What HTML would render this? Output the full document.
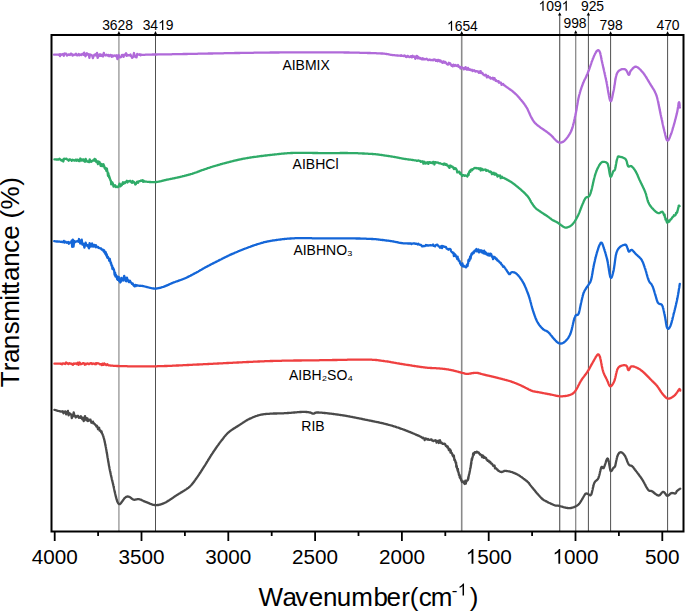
<!DOCTYPE html>
<html><head><meta charset="utf-8"><style>
html,body{margin:0;padding:0;background:#fff;}
body{width:685px;height:612px;overflow:hidden;}
svg{display:block;}
text{font-family:"Liberation Sans",sans-serif;fill:#000;}
.pk{font-size:13.7px;}
.tk{font-size:20.7px;}
.cl{font-size:14px;}
</style></head><body>
<svg width="685" height="612" viewBox="0 0 685 612">
<rect x="0" y="0" width="685" height="612" fill="#fff"/>
<line x1="118.9" y1="33.1" x2="118.9" y2="531" stroke="#a8a8a8" stroke-width="1.6"/>
<path d="M118.9 31.1 L117.2 34.4 L120.6 34.4 Z" fill="#000"/>
<text x="102.14" y="29.90" style="font-size:13.9px">3628</text>
<line x1="155.5" y1="33.1" x2="155.5" y2="531" stroke="#505050" stroke-width="1.0"/>
<path d="M155.5 31.1 L153.8 34.4 L157.2 34.4 Z" fill="#000"/>
<text x="142.64" y="29.90" style="font-size:13.9px">34</text><path d="M583,0 L763,0 L763,1466 L646,1466 C602,1377 520,1285 400,1200 C340,1158 280,1125 223,1102 L223,929 C290,954 376,995 450,1040 C510,1077 555,1113 583,1145 Z" transform="translate(158.10,29.90) scale(0.00679,-0.00679)" fill="#000"/><text x="165.83" y="29.90" style="font-size:13.9px">9</text>
<line x1="461.7" y1="33.1" x2="461.7" y2="531" stroke="#8a8a8a" stroke-width="1.6"/>
<path d="M461.7 31.1 L460.0 34.4 L463.4 34.4 Z" fill="#000"/>
<path d="M583,0 L763,0 L763,1466 L646,1466 C602,1377 520,1285 400,1200 C340,1158 280,1125 223,1102 L223,929 C290,954 376,995 450,1040 C510,1077 555,1113 583,1145 Z" transform="translate(446.94,30.70) scale(0.00679,-0.00679)" fill="#000"/><text x="454.67" y="30.70" style="font-size:13.9px">654</text>
<line x1="559.7" y1="14.2" x2="559.7" y2="531" stroke="#606060" stroke-width="1.2"/>
<path d="M559.7 12.2 L558.0 15.5 L561.4 15.5 Z" fill="#000"/>
<path d="M583,0 L763,0 L763,1466 L646,1466 C602,1377 520,1285 400,1200 C340,1158 280,1125 223,1102 L223,929 C290,954 376,995 450,1040 C510,1077 555,1113 583,1145 Z" transform="translate(538.44,10.80) scale(0.00679,-0.00679)" fill="#000"/><text x="546.17" y="10.80" style="font-size:13.9px">09</text><path d="M583,0 L763,0 L763,1466 L646,1466 C602,1377 520,1285 400,1200 C340,1158 280,1125 223,1102 L223,929 C290,954 376,995 450,1040 C510,1077 555,1113 583,1145 Z" transform="translate(561.63,10.80) scale(0.00679,-0.00679)" fill="#000"/>
<line x1="575.7" y1="32.2" x2="575.7" y2="531" stroke="#8a8a8a" stroke-width="1.3"/>
<path d="M575.7 30.2 L574.0 33.5 L577.4 33.5 Z" fill="#000"/>
<text x="563.41" y="27.80" style="font-size:13.9px">998</text>
<line x1="588.4" y1="14.2" x2="588.4" y2="531" stroke="#505050" stroke-width="1.0"/>
<path d="M588.4 12.2 L586.7 15.5 L590.1 15.5 Z" fill="#000"/>
<text x="580.91" y="10.60" style="font-size:13.9px">925</text>
<line x1="610.6" y1="33.3" x2="610.6" y2="531" stroke="#505050" stroke-width="1.0"/>
<path d="M610.6 31.3 L608.9 34.6 L612.3 34.6 Z" fill="#000"/>
<text x="599.61" y="30.00" style="font-size:13.9px">798</text>
<line x1="667.6" y1="33.3" x2="667.6" y2="531" stroke="#505050" stroke-width="1.0"/>
<path d="M667.6 31.3 L665.9 34.6 L669.3 34.6 Z" fill="#000"/>
<text x="656.41" y="30.00" style="font-size:13.9px">470</text>
<path d="M54.0 54.7 L54.4 54.7 L54.8 54.7 L55.2 54.7 L55.7 54.7 L56.2 54.7 L56.8 54.7 L57.4 54.7 L58.0 54.7 L58.7 54.8 L59.3 54.3 L60.0 56.1 L60.8 54.2 L61.5 54.8 L62.2 54.5 L63.0 54.0 L63.8 55.8 L64.6 53.5 L65.3 53.9 L66.1 53.6 L66.9 55.6 L67.7 55.0 L68.5 54.5 L69.2 54.6 L70.0 55.0 L70.6 53.9 L71.2 53.6 L71.9 54.2 L72.5 55.6 L73.2 54.6 L73.8 55.1 L74.5 54.6 L75.2 54.5 L75.9 53.7 L76.6 55.2 L77.3 55.4 L78.0 55.0 L78.7 53.9 L79.4 55.3 L80.1 54.4 L80.8 54.9 L81.5 55.0 L82.2 53.9 L82.9 53.8 L83.6 54.8 L84.2 52.6 L84.9 55.3 L85.6 56.2 L86.3 54.4 L86.9 53.3 L87.6 53.9 L88.2 54.9 L88.8 54.3 L89.4 57.9 L90.0 54.3 L90.8 54.9 L91.5 54.9 L92.2 55.7 L92.9 58.1 L93.6 55.9 L94.3 54.8 L95.0 55.4 L95.7 54.1 L96.3 55.6 L97.0 52.9 L97.6 57.9 L98.3 56.5 L98.9 54.8 L99.5 55.7 L100.1 54.2 L100.7 55.8 L101.4 55.7 L102.0 54.7 L102.6 56.4 L103.2 56.3 L103.8 52.9 L104.4 54.9 L105.0 54.9 L105.7 55.5 L106.4 54.6 L107.1 55.3 L107.7 55.6 L108.4 54.9 L109.1 56.2 L109.7 55.7 L110.4 54.9 L111.0 55.1 L111.7 56.9 L112.3 55.4 L113.0 56.4 L113.6 55.7 L114.2 55.6 L114.9 55.5 L115.5 56.0 L116.1 55.9 L116.7 55.3 L117.4 59.0 L118.0 57.5 L118.7 55.0 L119.3 56.8 L120.0 57.4 L120.6 57.1 L121.2 57.0 L121.8 55.0 L122.4 54.8 L123.0 56.0 L123.6 56.9 L124.2 54.7 L124.8 54.8 L125.4 55.0 L126.1 53.3 L126.8 55.9 L127.5 54.9 L128.3 55.4 L129.1 55.1 L130.0 55.5 L130.5 54.5 L131.1 56.4 L131.7 56.2 L132.2 57.8 L132.8 57.4 L133.4 55.3 L134.0 53.0 L134.6 55.9 L135.3 57.0 L135.9 56.0 L136.5 57.4 L137.2 53.9 L137.8 54.7 L138.5 54.5 L139.2 54.8 L139.9 54.3 L140.6 55.2 L141.3 54.7 L142.0 54.9 L142.7 54.8 L143.4 54.8 L144.1 54.8 L144.8 54.8 L145.6 54.7 L146.3 54.7 L147.0 54.7 L147.8 54.7 L148.5 54.6 L149.3 54.6 L150.0 54.6 L150.6 54.6 L151.2 54.6 L151.8 54.6 L152.4 54.5 L153.0 54.5 L153.7 54.5 L154.3 54.5 L154.9 54.5 L155.6 54.5 L156.2 54.5 L156.9 54.5 L157.5 54.4 L158.2 54.4 L158.8 54.4 L159.5 54.4 L160.2 54.4 L160.8 54.4 L161.5 54.4 L162.2 54.4 L162.9 54.4 L163.5 54.4 L164.2 54.4 L164.9 54.3 L165.6 54.3 L166.3 54.3 L166.9 54.3 L167.6 54.3 L168.3 54.3 L169.0 54.3 L169.6 54.3 L170.3 54.3 L171.0 54.3 L171.7 54.3 L172.3 54.2 L173.0 54.2 L173.7 54.2 L174.3 54.2 L175.0 54.2 L175.6 54.2 L176.3 54.2 L176.9 54.2 L177.5 54.2 L178.1 54.1 L178.7 54.1 L179.3 54.1 L179.8 54.1 L180.4 54.1 L180.9 54.1 L181.5 54.1 L182.0 54.1 L182.6 54.1 L183.1 54.0 L183.7 54.0 L184.2 54.0 L184.8 54.0 L185.4 54.0 L185.9 54.0 L186.5 54.0 L187.1 54.0 L187.7 53.9 L188.3 53.9 L189.0 53.9 L189.6 53.9 L190.3 53.9 L190.9 53.9 L191.6 53.9 L192.4 53.8 L193.1 53.8 L193.9 53.8 L194.7 53.8 L195.5 53.8 L196.3 53.8 L197.2 53.8 L198.1 53.7 L199.0 53.7 L200.0 53.7 L200.5 53.7 L201.0 53.7 L201.5 53.7 L202.0 53.7 L202.6 53.7 L203.1 53.6 L203.7 53.6 L204.2 53.6 L204.8 53.6 L205.3 53.6 L205.9 53.6 L206.5 53.6 L207.1 53.6 L207.7 53.6 L208.3 53.5 L208.9 53.5 L209.5 53.5 L210.1 53.5 L210.7 53.5 L211.4 53.5 L212.0 53.5 L212.6 53.5 L213.3 53.4 L213.9 53.4 L214.6 53.4 L215.3 53.4 L215.9 53.4 L216.6 53.4 L217.3 53.4 L217.9 53.4 L218.6 53.3 L219.3 53.3 L220.0 53.3 L220.7 53.3 L221.4 53.3 L222.0 53.3 L222.7 53.3 L223.4 53.3 L224.1 53.2 L224.8 53.2 L225.5 53.2 L226.2 53.2 L227.0 53.2 L227.7 53.2 L228.4 53.2 L229.1 53.1 L229.8 53.1 L230.5 53.1 L231.2 53.1 L231.9 53.1 L232.6 53.1 L233.4 53.1 L234.1 53.1 L234.8 53.0 L235.5 53.0 L236.2 53.0 L236.9 53.0 L237.6 53.0 L238.3 53.0 L239.0 53.0 L239.7 53.0 L240.4 52.9 L241.1 52.9 L241.8 52.9 L242.5 52.9 L243.2 52.9 L243.9 52.9 L244.6 52.9 L245.3 52.9 L246.0 52.9 L246.7 52.8 L247.3 52.8 L248.0 52.8 L248.7 52.8 L249.3 52.8 L250.0 52.8 L250.7 52.8 L251.3 52.8 L252.0 52.8 L252.6 52.8 L253.3 52.8 L254.0 52.7 L254.6 52.7 L255.3 52.7 L256.0 52.7 L256.7 52.7 L257.3 52.7 L258.0 52.7 L258.7 52.7 L259.3 52.7 L260.0 52.7 L260.7 52.7 L261.4 52.6 L262.1 52.6 L262.7 52.6 L263.4 52.6 L264.1 52.6 L264.8 52.6 L265.5 52.6 L266.1 52.6 L266.8 52.6 L267.5 52.6 L268.2 52.6 L268.8 52.6 L269.5 52.6 L270.2 52.5 L270.9 52.5 L271.6 52.5 L272.2 52.5 L272.9 52.5 L273.6 52.5 L274.3 52.5 L275.0 52.5 L275.6 52.5 L276.3 52.5 L277.0 52.5 L277.6 52.5 L278.3 52.5 L279.0 52.5 L279.7 52.4 L280.3 52.4 L281.0 52.4 L281.7 52.4 L282.3 52.4 L283.0 52.4 L283.6 52.4 L284.3 52.4 L284.9 52.4 L285.6 52.4 L286.3 52.4 L286.9 52.4 L287.6 52.4 L288.2 52.4 L288.8 52.4 L289.5 52.4 L290.1 52.4 L290.8 52.4 L291.4 52.3 L292.0 52.3 L292.7 52.3 L293.3 52.3 L293.9 52.3 L294.5 52.3 L295.2 52.3 L295.8 52.3 L296.4 52.3 L297.0 52.3 L297.6 52.3 L298.2 52.3 L298.8 52.3 L299.4 52.3 L300.0 52.3 L300.7 52.3 L301.5 52.3 L302.2 52.3 L302.9 52.3 L303.6 52.3 L304.3 52.3 L305.0 52.3 L305.7 52.3 L306.4 52.3 L307.1 52.3 L307.8 52.3 L308.5 52.3 L309.2 52.3 L309.9 52.3 L310.5 52.3 L311.2 52.3 L311.9 52.3 L312.5 52.3 L313.2 52.3 L313.9 52.3 L314.5 52.3 L315.2 52.3 L315.8 52.3 L316.5 52.3 L317.1 52.3 L317.8 52.3 L318.4 52.3 L319.0 52.3 L319.7 52.3 L320.3 52.3 L320.9 52.3 L321.6 52.3 L322.2 52.3 L322.8 52.3 L323.5 52.3 L324.1 52.3 L324.7 52.3 L325.4 52.3 L326.0 52.3 L326.6 52.3 L327.2 52.3 L327.9 52.3 L328.5 52.3 L329.1 52.3 L329.8 52.3 L330.4 52.3 L331.0 52.3 L331.7 52.3 L332.3 52.3 L332.9 52.3 L333.6 52.3 L334.2 52.3 L334.8 52.3 L335.5 52.3 L336.1 52.4 L336.8 52.4 L337.4 52.4 L338.0 52.4 L338.7 52.4 L339.3 52.4 L340.0 52.4 L340.7 52.4 L341.3 52.4 L342.0 52.4 L342.7 52.4 L343.4 52.4 L344.1 52.5 L344.8 52.5 L345.5 52.5 L346.2 52.5 L346.9 52.5 L347.6 52.5 L348.3 52.5 L349.0 52.5 L349.7 52.6 L350.5 52.6 L351.2 52.6 L351.9 52.6 L352.7 52.6 L353.4 52.6 L354.1 52.6 L354.8 52.7 L355.6 52.7 L356.3 52.7 L357.0 52.7 L357.8 52.7 L358.5 52.7 L359.2 52.7 L359.9 52.8 L360.7 52.8 L361.4 52.8 L362.1 52.8 L362.8 52.8 L363.5 52.8 L364.2 52.9 L364.9 52.9 L365.6 52.9 L366.3 52.9 L366.9 52.9 L367.6 53.0 L368.3 53.0 L368.9 53.0 L369.6 53.0 L370.2 53.0 L370.9 53.1 L371.5 53.1 L372.1 53.1 L372.7 53.1 L373.3 53.1 L373.9 53.2 L374.5 53.2 L375.0 53.2 L375.6 53.2 L376.1 53.2 L376.7 53.3 L377.2 53.3 L377.7 53.3 L378.2 53.3 L378.6 53.3 L379.1 53.4 L379.6 53.4 L380.0 53.4 L381.3 53.5 L382.5 53.5 L383.5 53.6 L384.4 53.7 L385.2 53.8 L385.9 53.9 L386.6 54.0 L387.1 54.1 L387.6 54.1 L388.1 54.2 L388.5 54.3 L389.0 54.4 L389.4 54.5 L389.8 54.6 L390.2 54.7 L390.7 54.8 L391.1 54.8 L391.7 54.9 L392.3 55.0 L393.0 55.1 L393.7 55.1 L394.4 55.2 L395.1 55.3 L395.8 55.3 L396.4 55.4 L397.1 55.5 L397.8 55.5 L398.5 55.6 L399.2 55.6 L399.9 55.7 L400.6 55.8 L401.3 55.3 L401.9 55.9 L402.6 55.8 L403.2 55.9 L403.9 56.1 L404.5 55.4 L405.2 56.1 L406.0 56.9 L406.7 57.0 L407.4 56.0 L408.0 55.9 L408.7 56.8 L409.4 57.1 L410.0 57.1 L410.7 56.1 L411.4 56.1 L412.0 57.4 L412.7 55.8 L413.4 56.9 L414.0 56.9 L414.7 56.5 L415.3 58.8 L416.0 58.0 L416.7 56.0 L417.3 56.1 L418.0 58.4 L418.7 57.3 L419.3 58.3 L420.0 58.6 L420.6 58.0 L421.3 59.2 L421.9 59.3 L422.6 58.3 L423.2 59.4 L423.8 58.8 L424.4 59.1 L425.0 59.4 L425.8 59.0 L426.5 58.7 L427.2 59.3 L427.9 60.1 L428.5 60.0 L429.2 59.9 L429.8 59.5 L430.5 60.1 L431.1 60.0 L431.8 60.2 L432.4 59.9 L433.1 60.4 L433.8 59.5 L434.4 59.5 L435.1 59.7 L435.8 60.8 L436.4 60.6 L437.1 59.9 L437.7 61.2 L438.4 59.9 L439.1 60.1 L439.8 61.4 L440.5 60.4 L441.3 61.9 L441.9 61.9 L442.5 62.9 L443.1 61.3 L443.7 61.4 L444.3 62.7 L445.0 61.9 L445.6 62.2 L446.3 63.1 L446.9 64.1 L447.6 64.5 L448.2 64.6 L448.9 62.8 L449.6 64.1 L450.2 63.3 L450.9 64.7 L451.5 65.7 L452.1 65.1 L452.8 66.4 L453.4 64.7 L454.1 65.3 L454.8 66.0 L455.4 64.9 L456.1 65.4 L456.7 65.9 L457.4 66.1 L458.0 65.0 L458.7 66.8 L459.3 66.5 L459.9 66.8 L460.5 68.5 L461.1 67.5 L461.7 67.1 L462.4 67.6 L463.1 68.2 L463.7 69.3 L464.4 67.9 L465.0 69.0 L465.6 67.2 L466.2 68.8 L466.8 69.7 L467.4 69.7 L468.0 67.9 L468.7 69.7 L469.3 69.8 L469.9 69.3 L470.6 70.2 L471.3 70.1 L471.9 69.8 L472.6 71.1 L473.3 70.7 L474.0 70.2 L474.7 70.7 L475.4 71.6 L476.1 71.1 L476.7 71.1 L477.4 71.3 L478.1 71.8 L478.7 72.7 L479.3 71.5 L480.0 72.8 L480.6 71.2 L481.2 73.1 L481.8 72.9 L482.4 73.0 L483.0 74.3 L483.6 74.5 L484.3 75.3 L484.9 75.5 L485.6 74.6 L486.3 75.3 L486.9 77.4 L487.4 76.9 L488.1 76.0 L488.7 77.0 L489.4 77.6 L490.0 77.3 L490.7 78.6 L491.4 78.1 L492.0 78.5 L492.7 77.7 L493.3 79.5 L493.9 79.4 L494.5 78.1 L495.1 79.8 L495.6 80.7 L496.1 80.1 L496.5 81.2 L497.4 81.1 L498.1 81.8 L498.5 81.1 L498.9 82.6 L499.4 82.3 L500.0 82.3 L500.5 82.9 L501.0 82.6 L501.5 84.8 L502.0 84.4 L502.6 84.2 L503.2 84.0 L503.8 85.1 L504.5 85.3 L505.2 86.0 L505.9 86.5 L506.4 86.8 L506.9 87.2 L507.4 87.5 L507.9 87.9 L508.5 88.3 L509.0 88.7 L509.6 89.1 L510.2 89.5 L510.8 90.0 L511.4 90.4 L512.0 90.8 L512.5 91.3 L513.1 91.7 L513.6 92.2 L514.2 92.6 L514.7 93.1 L515.2 93.6 L515.7 94.0 L516.2 94.5 L516.7 95.0 L517.2 95.5 L517.7 96.1 L518.2 96.6 L518.6 97.1 L519.1 97.6 L519.6 98.2 L520.0 98.7 L520.4 99.2 L520.9 99.7 L521.3 100.2 L521.7 100.7 L522.1 101.2 L522.6 101.8 L523.0 102.4 L523.5 102.9 L523.9 103.5 L524.3 104.0 L524.7 104.6 L525.1 105.1 L525.4 105.7 L525.8 106.2 L526.2 106.8 L526.5 107.3 L526.9 107.9 L527.2 108.5 L527.5 109.1 L527.8 109.7 L528.1 110.4 L528.4 111.0 L528.7 111.7 L529.0 112.3 L529.3 113.0 L529.5 113.6 L529.8 114.2 L530.1 114.9 L530.3 115.5 L530.6 116.0 L530.9 116.6 L531.3 117.3 L531.6 117.9 L532.0 118.6 L532.3 119.2 L532.7 119.8 L533.0 120.4 L533.4 120.9 L533.8 121.5 L534.2 122.0 L534.6 122.5 L535.0 123.0 L535.5 123.5 L536.0 123.9 L536.4 124.3 L536.9 124.7 L537.4 125.2 L538.0 125.6 L538.5 126.0 L539.1 126.4 L539.7 126.9 L540.2 127.3 L540.7 127.7 L541.3 128.1 L541.9 128.5 L542.5 128.9 L543.1 129.3 L543.8 129.8 L544.4 130.2 L545.0 130.6 L545.6 131.0 L546.1 131.4 L546.6 131.8 L547.1 132.1 L547.8 132.6 L548.4 133.1 L548.9 133.5 L549.4 133.9 L549.9 134.3 L550.4 134.7 L550.9 135.2 L551.5 135.7 L551.9 136.1 L552.4 136.6 L552.9 137.1 L553.4 137.7 L553.8 138.2 L554.3 138.7 L554.8 139.3 L555.3 139.8 L555.7 140.2 L556.2 140.7 L556.6 141.0 L557.3 141.5 L558.0 142.0 L558.6 142.3 L559.2 142.5 L559.8 142.6 L560.5 142.6 L561.1 142.5 L561.6 142.4 L562.2 142.2 L562.8 141.9 L563.4 141.6 L564.1 141.1 L564.7 140.5 L565.4 139.8 L565.7 139.4 L566.1 139.0 L566.4 138.6 L566.8 138.1 L567.2 137.6 L567.6 137.1 L568.0 136.6 L568.4 136.0 L568.7 135.5 L569.1 134.8 L569.5 134.2 L569.9 133.6 L570.3 132.9 L570.6 132.2 L571.0 131.5 L571.3 130.8 L571.6 130.0 L571.8 129.5 L572.0 128.9 L572.2 128.3 L572.4 127.8 L572.6 127.2 L572.8 126.5 L572.9 125.9 L573.1 125.3 L573.3 124.6 L573.4 124.0 L573.6 123.3 L573.8 122.6 L573.9 121.9 L574.1 121.2 L574.2 120.5 L574.4 119.8 L574.5 119.1 L574.7 118.5 L574.8 117.8 L575.0 117.1 L575.1 116.4 L575.3 115.7 L575.4 115.0 L575.6 114.4 L575.7 113.7 L575.8 113.0 L576.0 112.4 L576.1 111.7 L576.2 111.0 L576.4 110.4 L576.5 109.7 L576.6 109.0 L576.7 108.4 L576.8 107.7 L576.9 107.0 L577.0 106.3 L577.1 105.6 L577.3 105.0 L577.4 104.3 L577.5 103.6 L577.6 103.0 L577.7 102.3 L577.8 101.7 L577.9 101.0 L578.0 100.4 L578.2 99.8 L578.3 99.1 L578.4 98.5 L578.6 97.9 L578.7 97.3 L578.9 96.6 L579.0 95.9 L579.2 95.2 L579.4 94.5 L579.6 93.9 L579.8 93.2 L579.9 92.6 L580.1 91.9 L580.3 91.3 L580.5 90.6 L580.7 90.0 L580.9 89.4 L581.1 88.8 L581.3 88.2 L581.5 87.6 L581.7 87.0 L581.9 86.4 L582.2 85.8 L582.4 85.2 L582.6 84.6 L582.8 84.0 L583.1 83.3 L583.3 82.7 L583.6 82.0 L583.9 81.4 L584.1 80.8 L584.4 80.2 L584.7 79.6 L585.0 79.0 L585.3 78.5 L585.6 77.9 L585.9 77.3 L586.2 76.7 L586.5 76.1 L586.7 75.5 L587.0 74.8 L587.3 74.2 L587.6 73.5 L587.9 72.8 L588.1 72.2 L588.3 71.6 L588.6 71.0 L588.8 70.4 L589.0 69.8 L589.3 69.1 L589.5 68.5 L589.7 67.8 L589.9 67.1 L590.2 66.5 L590.4 65.8 L590.6 65.1 L590.9 64.4 L591.1 63.8 L591.3 63.1 L591.5 62.5 L591.7 61.8 L592.0 61.2 L592.2 60.6 L592.4 60.1 L592.6 59.5 L592.8 59.0 L593.0 58.5 L593.4 57.7 L593.7 56.9 L594.0 56.1 L594.4 55.3 L594.7 54.6 L595.0 53.9 L595.4 53.3 L595.7 52.7 L596.0 52.2 L596.3 51.7 L596.6 51.3 L596.8 51.0 L597.1 50.7 L597.9 50.2 L598.6 50.2 L599.2 50.8 L599.8 52.0 L600.0 52.4 L600.1 52.8 L600.2 53.3 L600.4 53.8 L600.5 54.4 L600.6 55.0 L600.8 55.6 L600.9 56.2 L601.0 56.9 L601.2 57.6 L601.3 58.4 L601.5 59.2 L601.6 60.0 L601.8 60.8 L602.0 61.7 L602.2 62.6 L602.3 63.1 L602.4 63.6 L602.6 64.2 L602.7 64.7 L602.8 65.3 L602.9 65.9 L603.1 66.5 L603.2 67.1 L603.3 67.7 L603.5 68.3 L603.6 68.9 L603.8 69.6 L603.9 70.2 L604.1 70.9 L604.2 71.5 L604.4 72.2 L604.5 72.9 L604.7 73.6 L604.8 74.2 L605.0 74.9 L605.1 75.6 L605.3 76.3 L605.4 77.0 L605.6 77.6 L605.7 78.3 L605.9 79.0 L606.0 79.7 L606.2 80.3 L606.3 81.0 L606.4 81.6 L606.6 82.3 L606.7 83.0 L606.8 83.7 L607.0 84.5 L607.1 85.2 L607.2 86.0 L607.4 86.8 L607.5 87.6 L607.7 88.4 L607.8 89.2 L607.9 90.0 L608.1 90.8 L608.2 91.6 L608.3 92.4 L608.5 93.1 L608.6 93.9 L608.8 94.6 L608.9 95.4 L609.0 96.0 L609.2 96.7 L609.3 97.3 L609.4 97.9 L609.5 98.5 L609.7 99.0 L609.8 99.4 L609.9 99.9 L610.0 100.2 L610.2 100.5 L610.3 100.8 L610.4 101.0 L610.6 101.2 L610.9 101.2 L611.1 101.1 L611.3 100.7 L611.5 100.2 L611.7 99.5 L611.9 98.8 L612.1 97.9 L612.3 97.0 L612.5 96.1 L612.7 95.1 L612.9 94.1 L613.1 93.1 L613.3 92.1 L613.5 91.2 L613.6 90.7 L613.7 90.1 L613.9 89.5 L614.0 88.8 L614.1 88.2 L614.2 87.5 L614.3 86.8 L614.4 86.0 L614.5 85.3 L614.7 84.6 L614.8 83.8 L614.9 83.1 L615.0 82.3 L615.1 81.6 L615.2 80.9 L615.3 80.1 L615.5 79.4 L615.6 78.8 L615.7 78.1 L615.8 77.5 L616.0 76.9 L616.1 76.3 L616.2 75.7 L616.4 75.3 L616.5 74.8 L616.9 73.8 L617.2 73.0 L617.6 72.3 L618.0 71.7 L618.4 71.2 L618.8 70.8 L619.3 70.5 L619.7 70.2 L620.1 70.0 L620.6 69.7 L621.3 69.4 L622.0 69.2 L622.8 69.1 L623.6 69.1 L624.4 69.2 L625.1 69.4 L625.7 69.7 L626.1 70.1 L626.5 70.7 L626.9 71.4 L627.3 72.1 L627.6 72.9 L627.9 73.6 L628.2 74.2 L628.5 74.6 L628.8 74.8 L629.1 74.7 L629.4 74.3 L629.6 73.7 L629.8 72.9 L630.0 72.1 L630.4 71.4 L630.8 70.7 L631.2 70.3 L631.6 69.7 L632.1 69.2 L632.6 68.6 L633.1 68.1 L633.6 67.6 L634.2 67.2 L634.8 66.9 L635.4 66.7 L636.0 66.7 L636.4 66.8 L636.9 67.0 L637.4 67.2 L637.9 67.6 L638.4 67.9 L638.9 68.3 L639.4 68.8 L640.0 69.3 L640.5 69.8 L641.0 70.4 L641.5 71.0 L642.1 71.6 L642.6 72.2 L643.1 72.8 L643.5 73.2 L643.8 73.7 L644.2 74.2 L644.5 74.7 L644.9 75.2 L645.3 75.8 L645.6 76.3 L646.0 76.9 L646.3 77.5 L646.7 78.1 L647.1 78.7 L647.4 79.3 L647.8 79.9 L648.1 80.5 L648.5 81.1 L648.8 81.7 L649.2 82.3 L649.5 82.9 L649.9 83.4 L650.2 84.0 L650.6 84.6 L650.9 85.2 L651.3 85.7 L651.6 86.2 L651.9 86.8 L652.3 87.3 L652.6 87.9 L653.0 88.4 L653.3 88.9 L653.7 89.5 L654.0 90.0 L654.3 90.6 L654.6 91.2 L654.9 91.8 L655.2 92.5 L655.5 93.1 L655.8 93.8 L656.1 94.5 L656.4 95.3 L656.6 95.8 L656.7 96.4 L656.9 96.9 L657.1 97.5 L657.2 98.1 L657.4 98.6 L657.5 99.2 L657.7 99.9 L657.8 100.5 L658.0 101.1 L658.1 101.8 L658.2 102.4 L658.4 103.1 L658.5 103.7 L658.6 104.4 L658.8 105.1 L658.9 105.7 L659.0 106.4 L659.2 107.1 L659.3 107.8 L659.4 108.4 L659.6 109.1 L659.7 109.8 L659.8 110.4 L660.0 111.1 L660.1 111.8 L660.2 112.4 L660.4 113.1 L660.5 113.7 L660.6 114.3 L660.8 115.0 L660.9 115.7 L661.1 116.3 L661.2 117.0 L661.4 117.7 L661.5 118.4 L661.7 119.0 L661.8 119.7 L662.0 120.4 L662.1 121.1 L662.3 121.8 L662.4 122.5 L662.5 123.2 L662.7 123.9 L662.8 124.5 L663.0 125.2 L663.1 125.8 L663.3 126.5 L663.4 127.1 L663.5 127.7 L663.7 128.3 L663.8 128.9 L664.0 129.5 L664.1 130.1 L664.2 130.6 L664.4 131.1 L664.5 131.6 L664.6 132.1 L664.9 133.1 L665.1 134.1 L665.3 135.1 L665.6 136.0 L665.8 136.9 L666.0 137.7 L666.2 138.4 L666.4 139.0 L666.6 139.6 L666.9 140.0 L667.1 140.3 L667.3 140.5 L667.6 140.6 L667.9 140.5 L668.1 140.4 L668.4 140.1 L668.7 139.7 L668.9 139.2 L669.2 138.7 L669.5 138.0 L669.8 137.3 L670.1 136.6 L670.4 135.7 L670.7 134.9 L671.1 134.0 L671.4 133.1 L671.7 132.1 L671.9 131.6 L672.0 131.1 L672.2 130.6 L672.4 130.0 L672.6 129.4 L672.7 128.8 L672.9 128.2 L673.1 127.5 L673.3 126.9 L673.5 126.2 L673.7 125.5 L673.9 124.8 L674.1 124.1 L674.3 123.4 L674.5 122.7 L674.7 122.0 L674.9 121.3 L675.0 120.6 L675.2 119.9 L675.4 119.2 L675.6 118.5 L675.8 117.9 L675.9 117.2 L676.1 116.6 L676.2 116.0 L676.4 115.4 L676.5 114.8 L676.7 114.2 L676.8 113.7 L677.0 112.8 L677.2 111.9 L677.4 111.1 L677.5 110.2 L677.7 109.4 L677.8 108.5 L677.9 107.7 L678.1 107.0 L678.2 106.2 L678.3 105.5 L678.4 104.9 L678.5 104.3 L678.5 103.8 L678.6 103.3 L678.7 102.9 L678.8 102.6 L678.9 102.4 L679.1 102.3 L679.3 102.8 L679.5 103.7 L679.6 104.8 L679.7 105.9 L679.8 106.9 L679.9 107.5" fill="none" stroke="#b06ad9" stroke-width="2.3" stroke-linejoin="round" stroke-linecap="round"/>
<path d="M54.4 159.4 L54.8 159.4 L55.2 159.4 L55.7 159.4 L56.2 159.5 L56.8 159.5 L57.4 159.5 L58.0 159.5 L58.7 159.5 L59.4 158.7 L60.2 159.3 L61.0 160.3 L61.7 160.6 L62.5 159.8 L63.3 161.5 L64.1 158.7 L64.9 158.8 L65.7 158.9 L66.5 158.7 L67.2 159.7 L67.9 159.8 L68.7 160.7 L69.3 159.5 L70.0 159.5 L70.6 159.6 L71.2 160.2 L71.7 160.9 L72.6 159.7 L73.5 160.1 L74.2 160.6 L74.9 160.7 L75.5 159.7 L76.1 159.7 L76.7 160.7 L77.2 159.9 L77.8 159.7 L78.3 160.1 L78.9 161.0 L79.6 161.1 L80.3 158.5 L80.9 159.3 L81.5 160.6 L82.2 160.6 L82.8 159.4 L83.5 159.5 L84.2 161.3 L85.0 161.7 L85.7 158.9 L86.4 160.3 L87.1 161.5 L87.8 161.3 L88.4 161.9 L89.1 162.1 L89.7 159.3 L90.3 161.2 L90.9 161.8 L91.4 161.8 L92.3 160.6 L93.1 160.4 L93.8 160.5 L94.5 158.9 L95.1 160.8 L95.7 159.5 L96.3 162.0 L96.8 161.1 L97.3 161.5 L98.0 164.1 L98.6 161.5 L99.1 162.4 L99.5 162.0 L100.0 163.3 L100.6 165.8 L101.1 164.5 L101.7 164.0 L102.3 166.2 L102.9 165.4 L103.5 164.3 L104.1 165.9 L104.6 167.9 L105.0 167.5 L105.3 168.9 L105.7 168.0 L106.0 169.0 L106.3 170.8 L106.6 170.6 L106.9 168.6 L107.2 170.8 L107.5 171.8 L107.7 173.2 L108.0 175.8 L108.3 173.2 L108.5 174.3 L108.8 174.9 L109.1 177.3 L109.3 176.4 L109.6 178.4 L109.8 178.0 L110.1 179.3 L110.3 179.6 L110.5 180.4 L110.8 180.6 L111.0 181.4 L111.2 184.3 L111.5 182.6 L111.8 184.2 L112.3 182.4 L112.9 183.8 L113.5 186.6 L114.1 186.2 L114.6 185.5 L115.1 185.1 L115.8 187.1 L116.3 186.9 L117.0 186.7 L117.6 187.1 L118.2 187.1 L118.9 185.3 L119.6 183.6 L120.3 186.4 L120.8 184.5 L121.4 185.5 L121.9 185.0 L122.5 183.3 L123.0 182.2 L123.6 183.8 L124.3 182.4 L124.9 183.1 L125.5 182.1 L126.2 181.7 L126.9 180.8 L127.5 182.5 L128.2 181.2 L128.8 181.3 L129.5 181.3 L130.1 180.7 L130.8 181.5 L131.4 182.4 L132.0 182.8 L132.6 181.0 L133.2 182.3 L133.9 181.9 L134.8 183.3 L135.3 184.5 L135.8 184.3 L136.4 183.1 L136.9 181.8 L137.5 181.6 L138.1 182.8 L138.8 181.3 L139.5 181.1 L140.3 181.0 L141.1 180.5 L142.0 180.9 L142.5 180.2 L143.1 181.8 L143.7 180.8 L144.3 181.7 L144.9 181.5 L145.5 181.6 L146.2 181.6 L146.8 181.7 L147.5 181.8 L148.2 181.8 L148.9 181.9 L149.6 182.0 L150.3 182.0 L151.0 182.1 L151.7 182.1 L152.4 182.1 L153.1 182.2 L153.8 182.2 L154.5 182.1 L155.1 182.1 L155.8 182.0 L156.4 182.0 L157.1 181.9 L157.7 181.8 L158.4 181.7 L159.0 181.6 L159.7 181.4 L160.3 181.3 L160.9 181.2 L161.6 181.0 L162.2 180.9 L162.8 180.7 L163.5 180.5 L164.1 180.4 L164.8 180.2 L165.5 180.1 L166.1 179.9 L166.8 179.7 L167.5 179.6 L168.1 179.5 L168.7 179.3 L169.4 179.2 L170.0 179.1 L170.6 178.9 L171.3 178.8 L172.0 178.7 L172.6 178.5 L173.3 178.4 L174.0 178.3 L174.6 178.1 L175.3 178.0 L175.9 177.8 L176.6 177.7 L177.2 177.6 L177.9 177.4 L178.5 177.3 L179.1 177.1 L179.8 177.0 L180.4 176.9 L180.9 176.7 L181.5 176.6 L182.3 176.4 L183.0 176.2 L183.7 176.1 L184.4 175.9 L185.0 175.7 L185.7 175.6 L186.3 175.4 L187.0 175.2 L187.6 175.1 L188.2 174.9 L188.8 174.7 L189.5 174.6 L190.1 174.4 L190.7 174.2 L191.3 174.0 L192.0 173.8 L192.6 173.6 L193.2 173.4 L193.9 173.2 L194.5 173.0 L195.1 172.7 L195.7 172.5 L196.4 172.3 L197.0 172.1 L197.6 171.8 L198.2 171.6 L198.9 171.4 L199.5 171.1 L200.1 170.9 L200.7 170.7 L201.4 170.4 L202.0 170.2 L202.6 170.0 L203.2 169.8 L203.8 169.6 L204.4 169.4 L205.0 169.2 L205.5 169.0 L206.1 168.8 L206.7 168.6 L207.2 168.4 L207.8 168.2 L208.4 168.0 L209.0 167.8 L209.6 167.6 L210.3 167.4 L210.9 167.2 L211.6 167.0 L212.3 166.7 L213.1 166.5 L213.6 166.3 L214.2 166.2 L214.7 166.0 L215.3 165.8 L215.9 165.7 L216.5 165.5 L217.1 165.3 L217.7 165.1 L218.3 165.0 L218.9 164.8 L219.5 164.6 L220.2 164.4 L220.8 164.2 L221.5 164.1 L222.1 163.9 L222.8 163.7 L223.5 163.5 L224.1 163.3 L224.8 163.1 L225.5 163.0 L226.1 162.8 L226.8 162.6 L227.5 162.4 L228.1 162.3 L228.8 162.1 L229.4 161.9 L230.0 161.8 L230.6 161.6 L231.2 161.5 L231.9 161.3 L232.5 161.2 L233.1 161.0 L233.7 160.9 L234.3 160.7 L234.9 160.6 L235.5 160.4 L236.2 160.3 L236.8 160.1 L237.4 160.0 L238.1 159.9 L238.7 159.7 L239.4 159.6 L240.0 159.4 L240.7 159.3 L241.4 159.1 L242.0 159.0 L242.7 158.9 L243.5 158.7 L244.2 158.6 L244.9 158.5 L245.6 158.3 L246.4 158.2 L247.0 158.1 L247.6 158.0 L248.2 157.9 L248.8 157.8 L249.4 157.7 L250.0 157.6 L250.6 157.5 L251.2 157.4 L251.9 157.3 L252.5 157.2 L253.2 157.1 L253.8 157.0 L254.5 156.9 L255.1 156.9 L255.8 156.8 L256.5 156.7 L257.1 156.6 L257.8 156.5 L258.5 156.4 L259.2 156.3 L259.8 156.2 L260.5 156.1 L261.2 156.0 L261.9 156.0 L262.6 155.9 L263.3 155.8 L263.9 155.7 L264.6 155.6 L265.3 155.5 L266.0 155.5 L266.7 155.4 L267.3 155.3 L268.0 155.2 L268.7 155.1 L269.3 155.1 L270.0 155.0 L270.7 154.9 L271.3 154.9 L272.0 154.8 L272.6 154.7 L273.3 154.6 L273.9 154.6 L274.5 154.5 L275.2 154.4 L275.8 154.3 L276.4 154.3 L277.1 154.2 L277.7 154.1 L278.4 154.1 L279.0 154.0 L279.6 153.9 L280.3 153.9 L280.9 153.8 L281.6 153.7 L282.2 153.7 L282.8 153.6 L283.5 153.6 L284.1 153.5 L284.8 153.4 L285.5 153.4 L286.1 153.3 L286.8 153.3 L287.5 153.2 L288.1 153.2 L288.8 153.1 L289.5 153.1 L290.2 153.1 L290.9 153.0 L291.6 153.0 L292.3 153.0 L293.1 152.9 L293.8 152.9 L294.4 152.9 L295.0 152.9 L295.6 152.8 L296.3 152.8 L296.9 152.8 L297.5 152.8 L298.1 152.8 L298.8 152.8 L299.4 152.8 L300.1 152.8 L300.7 152.8 L301.4 152.8 L302.0 152.8 L302.7 152.8 L303.4 152.8 L304.0 152.8 L304.7 152.8 L305.4 152.8 L306.0 152.8 L306.7 152.8 L307.4 152.9 L308.1 152.9 L308.7 152.9 L309.4 152.9 L310.1 152.9 L310.8 152.9 L311.5 152.9 L312.2 152.9 L312.8 153.0 L313.5 153.0 L314.2 153.0 L314.9 153.0 L315.6 153.0 L316.3 153.0 L316.9 153.0 L317.6 153.0 L318.3 153.1 L319.0 153.1 L319.7 153.1 L320.3 153.1 L321.0 153.1 L321.7 153.1 L322.3 153.1 L323.0 153.1 L323.7 153.1 L324.3 153.1 L325.0 153.1 L325.7 153.1 L326.4 153.1 L327.1 153.1 L327.7 153.1 L328.4 153.1 L329.1 153.1 L329.8 153.1 L330.5 153.1 L331.2 153.1 L331.9 153.1 L332.6 153.1 L333.3 153.1 L334.0 153.1 L334.7 153.1 L335.4 153.1 L336.1 153.1 L336.8 153.1 L337.5 153.1 L338.1 153.1 L338.8 153.1 L339.5 153.1 L340.2 153.0 L340.9 153.0 L341.6 153.0 L342.2 153.0 L342.9 153.0 L343.6 153.0 L344.2 153.0 L344.9 153.0 L345.5 153.0 L346.2 153.0 L346.8 153.0 L347.4 153.0 L348.0 153.1 L348.7 153.1 L349.3 153.1 L349.9 153.1 L350.5 153.1 L351.1 153.1 L351.6 153.1 L352.2 153.1 L353.0 153.1 L353.8 153.1 L354.6 153.2 L355.4 153.2 L356.1 153.2 L356.9 153.2 L357.7 153.2 L358.4 153.3 L359.2 153.3 L359.9 153.3 L360.6 153.4 L361.3 153.4 L362.0 153.4 L362.7 153.5 L363.4 153.5 L364.1 153.5 L364.8 153.6 L365.4 153.6 L366.1 153.6 L366.7 153.7 L367.3 153.7 L367.9 153.7 L368.5 153.8 L369.0 153.8 L369.6 153.8 L370.1 153.9 L370.7 153.9 L371.2 153.9 L371.7 153.9 L372.1 154.0 L372.6 154.0 L373.7 154.1 L374.7 154.1 L375.4 154.2 L376.0 154.3 L376.6 154.3 L377.0 154.4 L377.5 154.4 L378.0 154.5 L378.5 154.6 L379.2 154.7 L380.0 154.8 L380.5 154.9 L381.1 154.9 L381.7 155.0 L382.3 155.1 L382.9 155.2 L383.5 155.3 L384.2 155.4 L384.8 155.5 L385.5 155.6 L386.2 155.7 L386.9 155.8 L387.6 155.9 L388.3 156.0 L388.9 156.1 L389.6 156.2 L390.3 156.3 L391.0 156.4 L391.6 156.5 L392.3 156.6 L392.9 156.7 L393.6 156.8 L394.3 156.9 L394.9 157.1 L395.6 157.2 L396.2 157.3 L396.9 157.4 L397.5 157.6 L398.2 157.7 L398.9 157.8 L399.5 158.0 L400.2 158.1 L400.8 158.2 L401.4 158.3 L402.1 158.5 L402.7 158.6 L403.3 158.7 L403.9 158.8 L404.5 158.9 L405.2 159.0 L406.0 159.1 L406.7 159.2 L407.4 159.3 L408.0 159.4 L408.7 159.5 L409.4 159.6 L410.0 159.6 L410.7 159.7 L411.4 159.8 L412.0 159.9 L412.7 160.0 L413.4 160.1 L414.0 160.2 L414.7 160.3 L415.4 160.4 L416.0 160.4 L416.7 160.9 L417.4 160.8 L418.1 160.4 L418.8 160.7 L419.5 161.0 L420.2 160.9 L420.8 161.8 L421.5 161.4 L422.2 161.9 L422.8 161.3 L423.4 163.7 L424.0 162.2 L424.5 161.8 L425.0 163.4 L425.9 163.5 L426.7 162.4 L427.2 162.6 L427.8 162.1 L428.3 163.9 L429.1 162.2 L430.1 162.2 L430.6 162.9 L431.2 162.5 L431.7 163.0 L432.4 163.3 L433.0 161.9 L433.7 162.0 L434.4 164.5 L435.1 162.1 L435.9 162.1 L436.6 162.6 L437.3 162.6 L438.0 162.5 L438.7 163.2 L439.4 163.3 L440.1 163.1 L440.7 163.5 L441.3 163.8 L442.0 164.0 L442.7 164.1 L443.4 164.7 L444.1 163.5 L444.8 163.7 L445.4 164.9 L446.0 164.5 L446.6 164.2 L447.2 165.6 L447.8 165.5 L448.4 166.4 L448.9 167.3 L449.5 167.9 L450.2 165.5 L450.9 165.8 L451.5 166.3 L452.1 167.1 L452.7 166.8 L453.3 167.8 L453.9 169.1 L454.5 168.0 L455.0 168.8 L455.6 168.2 L456.2 169.1 L456.7 169.9 L457.3 172.4 L457.8 171.6 L458.3 172.3 L458.9 172.0 L459.3 171.8 L459.8 172.7 L460.3 174.0 L460.7 173.0 L461.4 174.4 L462.1 176.0 L462.7 175.1 L463.2 175.3 L463.8 175.1 L464.6 175.9 L465.3 175.4 L466.1 175.8 L466.9 175.8 L467.3 176.6 L467.7 175.6 L468.1 174.0 L468.6 175.0 L469.0 172.1 L469.4 172.3 L469.9 170.7 L470.4 171.7 L470.9 170.0 L471.5 169.5 L472.2 170.2 L472.9 169.1 L473.6 168.8 L474.3 168.1 L474.9 168.0 L475.5 168.2 L476.1 167.9 L476.9 168.4 L477.5 168.3 L478.1 168.1 L479.1 169.1 L479.6 168.6 L480.1 168.2 L480.7 170.5 L481.4 168.7 L482.0 168.9 L482.7 170.1 L483.4 170.0 L484.2 169.6 L484.9 169.7 L485.6 169.5 L486.3 170.9 L486.9 170.3 L487.5 170.3 L488.1 170.6 L488.7 171.1 L489.3 171.9 L490.0 172.0 L490.6 171.5 L491.2 172.1 L491.9 174.2 L492.5 173.0 L493.1 173.8 L493.8 172.8 L494.4 174.5 L495.0 174.8 L495.7 173.5 L496.3 174.1 L496.9 174.8 L497.5 176.6 L498.2 175.3 L498.8 175.4 L499.4 175.9 L500.1 175.5 L500.7 178.2 L501.3 177.0 L502.0 176.7 L502.6 177.8 L503.2 177.9 L503.8 177.9 L504.4 178.2 L505.0 178.6 L505.7 178.9 L506.3 179.2 L506.9 179.6 L507.5 179.9 L508.1 180.2 L508.7 180.6 L509.3 180.9 L509.8 181.2 L510.3 181.5 L510.8 181.8 L511.5 182.2 L512.1 182.6 L512.6 183.0 L513.1 183.4 L513.6 183.7 L514.1 184.1 L514.6 184.5 L515.1 184.9 L515.7 185.4 L516.2 185.8 L516.7 186.2 L517.2 186.6 L517.7 187.0 L518.2 187.4 L518.7 187.8 L519.3 188.3 L519.8 188.7 L520.3 189.2 L520.9 189.7 L521.4 190.1 L521.9 190.6 L522.4 191.0 L522.9 191.5 L523.4 192.0 L523.9 192.4 L524.4 192.9 L524.9 193.4 L525.4 193.9 L525.8 194.4 L526.3 194.9 L526.8 195.4 L527.2 195.8 L527.6 196.3 L528.0 196.8 L528.5 197.4 L528.9 198.0 L529.3 198.7 L529.7 199.3 L530.0 199.9 L530.3 200.6 L530.7 201.2 L531.0 201.8 L531.3 202.3 L531.7 202.9 L532.1 203.5 L532.5 204.1 L532.9 204.7 L533.2 205.2 L533.6 205.8 L534.0 206.3 L534.4 206.8 L534.8 207.3 L535.3 207.8 L535.8 208.3 L536.3 208.7 L536.7 209.1 L537.3 209.5 L537.8 209.8 L538.3 210.2 L538.9 210.6 L539.5 211.0 L540.2 211.5 L540.7 211.8 L541.2 212.2 L541.8 212.6 L542.4 213.0 L543.0 213.4 L543.6 213.8 L544.2 214.2 L544.8 214.6 L545.4 214.9 L546.0 215.3 L546.6 215.7 L547.1 216.1 L547.6 216.4 L548.3 216.9 L548.9 217.3 L549.4 217.7 L549.9 218.1 L550.5 218.5 L551.0 218.9 L551.5 219.3 L552.0 219.7 L552.5 220.0 L553.1 220.4 L553.7 220.7 L554.3 220.9 L554.9 221.2 L555.5 221.5 L556.1 221.8 L556.7 222.1 L557.4 222.5 L557.9 222.8 L558.5 223.2 L559.1 223.6 L559.6 224.1 L560.2 224.5 L560.8 225.0 L561.4 225.4 L562.0 225.8 L562.5 226.2 L563.0 226.5 L563.5 226.8 L564.3 227.2 L564.9 227.5 L565.4 227.7 L566.0 227.7 L566.8 227.5 L567.3 227.4 L567.8 227.2 L568.3 227.0 L568.9 226.8 L569.5 226.5 L570.1 226.2 L570.7 225.8 L571.3 225.4 L571.9 224.9 L572.5 224.3 L572.9 223.9 L573.3 223.4 L573.6 222.9 L574.0 222.4 L574.4 221.9 L574.8 221.3 L575.1 220.7 L575.5 220.1 L575.9 219.4 L576.3 218.8 L576.6 218.1 L577.0 217.5 L577.3 216.8 L577.7 216.2 L578.0 215.5 L578.3 214.9 L578.5 214.4 L578.8 213.8 L579.1 213.1 L579.3 212.5 L579.6 211.9 L579.8 211.2 L580.1 210.6 L580.3 209.9 L580.6 209.3 L580.8 208.6 L581.1 208.0 L581.3 207.4 L581.5 206.8 L581.7 206.2 L582.0 205.6 L582.2 205.1 L582.4 204.6 L582.7 203.8 L583.1 203.1 L583.4 202.4 L583.6 201.7 L583.9 201.0 L584.2 200.4 L584.5 199.9 L584.8 199.3 L585.0 198.8 L585.3 198.4 L585.6 198.0 L586.3 197.4 L587.0 197.2 L587.6 197.1 L588.3 196.9 L588.9 196.4 L589.2 196.0 L589.5 195.6 L589.7 195.1 L590.0 194.6 L590.2 194.0 L590.5 193.4 L590.7 192.6 L591.0 191.7 L591.3 190.7 L591.4 190.2 L591.6 189.7 L591.7 189.1 L591.9 188.5 L592.0 187.9 L592.2 187.2 L592.3 186.5 L592.5 185.8 L592.7 185.1 L592.8 184.3 L593.0 183.6 L593.1 182.8 L593.3 182.1 L593.5 181.4 L593.6 180.7 L593.8 179.9 L594.0 179.3 L594.1 178.6 L594.3 178.0 L594.4 177.4 L594.6 176.8 L594.8 176.0 L595.1 175.2 L595.3 174.5 L595.5 173.8 L595.7 173.1 L596.0 172.4 L596.2 171.8 L596.4 171.2 L596.7 170.6 L596.9 170.0 L597.1 169.4 L597.4 168.9 L597.6 168.3 L597.9 167.8 L598.3 167.1 L598.7 166.3 L599.0 165.6 L599.4 165.0 L599.9 164.3 L600.3 163.8 L600.7 163.2 L601.1 162.8 L601.6 162.4 L602.0 162.1 L602.7 161.8 L603.4 161.8 L604.2 161.8 L605.0 162.0 L605.7 162.2 L606.4 162.6 L606.9 162.9 L607.4 163.3 L607.7 163.8 L607.9 164.4 L608.1 165.1 L608.2 165.9 L608.5 167.0 L608.6 167.5 L608.7 168.1 L608.9 168.8 L609.0 169.6 L609.1 170.4 L609.3 171.3 L609.4 172.1 L609.5 172.9 L609.7 173.7 L609.8 174.5 L610.0 175.1 L610.1 175.7 L610.3 176.2 L610.4 176.6 L610.6 176.8 L610.9 176.8 L611.2 176.5 L611.5 175.9 L611.9 175.1 L612.2 174.2 L612.5 173.3 L612.8 172.4 L613.1 171.6 L613.4 171.1 L614.0 170.6 L614.4 170.6 L615.0 169.4 L615.1 169.0 L615.2 168.5 L615.4 167.9 L615.5 167.3 L615.6 166.6 L615.8 165.8 L615.9 165.1 L616.0 164.3 L616.2 163.5 L616.3 162.7 L616.5 161.9 L616.6 161.2 L616.8 160.4 L616.9 159.8 L617.1 159.1 L617.2 158.6 L617.4 158.1 L617.5 157.7 L618.0 156.6 L618.6 156.4 L619.1 156.5 L620.0 156.8 L620.5 156.9 L621.1 157.0 L621.8 157.2 L622.5 157.4 L623.2 157.7 L623.9 158.0 L624.6 158.4 L625.2 158.8 L625.7 159.3 L626.0 159.8 L626.3 160.4 L626.6 161.1 L626.8 161.8 L627.0 162.5 L627.1 163.3 L627.3 164.0 L627.5 164.7 L627.7 165.3 L627.9 165.8 L628.1 166.2 L628.7 166.6 L629.3 166.5 L630.0 166.2 L630.7 166.0 L631.4 166.2 L631.8 166.5 L632.2 166.9 L632.7 167.3 L633.1 167.7 L633.6 168.3 L634.0 168.9 L634.5 169.5 L635.0 170.3 L635.5 171.1 L635.8 171.6 L636.0 172.1 L636.3 172.6 L636.6 173.2 L636.9 173.8 L637.2 174.4 L637.5 175.1 L637.8 175.7 L638.0 176.4 L638.3 177.1 L638.6 177.7 L638.9 178.4 L639.2 179.1 L639.5 179.8 L639.8 180.4 L640.1 181.1 L640.4 181.7 L640.7 182.3 L641.0 182.9 L641.3 183.6 L641.6 184.2 L641.9 184.8 L642.2 185.4 L642.5 186.1 L642.8 186.7 L643.1 187.3 L643.4 187.9 L643.7 188.6 L644.0 189.2 L644.3 189.8 L644.5 190.4 L644.8 191.1 L645.1 191.7 L645.3 192.3 L645.5 192.9 L645.8 193.6 L646.0 194.2 L646.2 194.9 L646.3 195.5 L646.5 196.2 L646.7 196.9 L646.9 197.5 L647.0 198.2 L647.2 198.8 L647.4 199.5 L647.6 200.1 L647.7 200.7 L647.9 201.3 L648.1 201.8 L648.4 202.4 L648.6 202.9 L649.0 203.6 L649.3 204.3 L649.7 204.9 L650.1 205.5 L650.5 206.1 L651.0 206.6 L651.4 207.2 L651.8 207.7 L652.2 208.1 L652.7 208.6 L653.1 209.1 L653.5 209.5 L654.0 210.1 L654.6 210.6 L655.2 211.1 L655.7 211.6 L656.3 212.1 L656.8 212.4 L657.4 212.8 L657.9 213.0 L658.4 213.2 L659.1 213.2 L659.9 212.9 L660.5 212.4 L661.2 211.9 L661.8 212.0 L662.4 211.6 L662.8 212.2 L663.1 212.6 L663.4 213.3 L663.7 214.2 L664.0 215.0 L664.3 215.6 L664.6 214.6 L664.9 217.4 L665.2 217.3 L665.5 219.5 L665.7 218.6 L666.0 219.1 L666.3 219.9 L666.6 221.5 L666.9 222.2 L667.1 222.5 L667.4 222.1 L667.9 222.3 L668.3 220.5 L668.7 221.1 L669.2 221.6 L669.8 220.5 L670.2 219.9 L670.7 219.2 L671.2 219.3 L671.8 218.2 L672.3 217.5 L672.9 216.7 L673.4 216.7 L673.9 215.3 L674.4 215.7 L674.8 215.4 L675.3 215.3 L675.7 214.5 L676.1 212.9 L676.5 213.4 L676.9 212.2 L677.2 212.4 L677.4 211.3 L677.6 210.3 L677.8 210.0 L678.0 208.9 L678.2 208.4 L678.3 207.3 L678.4 207.3 L678.6 206.3 L678.7 205.7 L678.8 205.6 L679.3 205.7 L679.6 206.1" fill="none" stroke="#2fab68" stroke-width="2.3" stroke-linejoin="round" stroke-linecap="round"/>
<path d="M54.2 241.2 L54.6 241.2 L55.2 241.3 L55.9 241.4 L56.7 241.5 L57.5 241.5 L58.4 241.6 L59.2 241.5 L59.9 241.7 L60.6 241.8 L61.2 241.7 L61.9 242.0 L62.5 241.9 L63.2 242.1 L63.8 240.9 L64.4 242.6 L65.1 241.9 L65.7 241.7 L66.4 242.7 L67.0 242.8 L67.6 242.5 L68.2 242.0 L68.9 243.8 L69.6 242.5 L70.4 242.6 L71.0 242.6 L71.6 240.8 L72.2 246.9 L72.8 239.6 L73.5 246.5 L74.2 240.8 L74.9 241.9 L75.6 242.0 L76.3 241.3 L77.0 241.2 L77.6 241.1 L78.3 241.8 L79.0 239.0 L79.6 241.5 L80.3 243.5 L81.0 241.5 L81.7 239.6 L82.4 244.7 L83.1 243.5 L83.8 244.5 L84.4 247.6 L85.0 245.3 L85.6 242.7 L86.2 244.4 L87.0 245.7 L87.7 245.1 L88.3 246.8 L89.0 248.4 L89.6 243.1 L90.2 244.9 L90.8 246.6 L91.4 244.4 L92.1 243.4 L92.8 246.6 L93.4 246.7 L94.1 244.9 L94.8 245.1 L95.5 247.2 L96.1 245.3 L96.7 247.0 L97.4 247.3 L98.1 246.9 L98.7 247.9 L99.3 248.1 L100.0 248.1 L100.6 248.5 L101.2 248.5 L101.8 249.6 L102.4 249.7 L103.0 249.7 L103.6 251.5 L104.1 250.3 L104.6 252.5 L105.0 251.8 L105.3 253.8 L105.7 252.2 L106.0 253.5 L106.3 255.7 L106.6 254.1 L106.9 255.1 L107.2 257.4 L107.5 257.8 L107.9 256.9 L108.2 258.1 L108.5 258.3 L108.8 258.6 L109.2 260.7 L109.5 261.0 L109.8 259.0 L110.1 261.1 L110.4 261.4 L110.7 263.4 L111.0 262.8 L111.2 263.8 L111.5 265.5 L111.8 265.3 L112.1 265.7 L112.4 268.9 L112.7 268.1 L112.9 267.5 L113.2 269.1 L113.5 268.7 L113.8 270.4 L114.0 269.8 L114.3 271.8 L114.6 274.7 L114.8 274.9 L115.1 272.6 L115.4 276.5 L115.8 274.7 L116.1 275.4 L116.4 275.7 L116.7 276.2 L117.1 279.2 L117.4 277.6 L117.7 279.8 L118.2 279.9 L118.7 276.9 L119.2 281.1 L119.7 280.1 L120.3 282.5 L120.8 281.6 L121.3 278.0 L121.8 279.5 L122.4 278.9 L123.0 280.6 L123.6 278.4 L124.2 275.8 L124.9 277.9 L125.5 280.7 L126.3 281.2 L126.9 277.6 L127.6 280.1 L128.2 280.1 L128.8 282.1 L129.4 282.0 L130.0 280.8 L130.5 282.2 L131.0 282.4 L131.5 283.0 L132.0 283.9 L132.3 283.6 L132.7 283.5 L133.3 285.0 L134.1 285.9 L134.6 286.3 L135.2 284.9 L135.8 286.1 L136.5 285.2 L137.2 285.4 L137.9 285.6 L138.7 285.7 L139.4 285.8 L140.1 285.7 L140.8 285.8 L141.4 285.8 L142.0 285.9 L142.9 286.0 L143.6 286.2 L144.1 286.3 L144.7 286.5 L145.5 286.7 L146.4 286.9 L146.9 287.0 L147.5 287.2 L148.1 287.3 L148.8 287.5 L149.4 287.7 L150.1 287.8 L150.8 288.0 L151.5 288.2 L152.3 288.3 L153.0 288.4 L153.7 288.5 L154.4 288.6 L155.1 288.6 L155.7 288.6 L156.4 288.5 L157.0 288.4 L157.6 288.4 L158.3 288.2 L158.9 288.1 L159.5 287.9 L160.2 287.8 L160.8 287.6 L161.5 287.4 L162.1 287.2 L162.7 287.0 L163.4 286.8 L164.0 286.6 L164.6 286.4 L165.2 286.2 L165.8 285.9 L166.4 285.7 L167.0 285.4 L167.6 285.1 L168.2 284.9 L168.8 284.6 L169.4 284.3 L170.0 284.0 L170.7 283.7 L171.4 283.4 L172.1 283.1 L172.8 282.8 L173.3 282.6 L173.9 282.4 L174.5 282.2 L175.0 282.0 L175.7 281.7 L176.3 281.5 L176.9 281.3 L177.5 281.1 L178.2 280.9 L178.8 280.6 L179.4 280.4 L180.1 280.2 L180.7 280.0 L181.4 279.7 L182.0 279.5 L182.6 279.3 L183.2 279.0 L183.8 278.8 L184.4 278.5 L185.0 278.3 L185.6 278.0 L186.2 277.8 L186.8 277.5 L187.4 277.2 L188.0 276.9 L188.6 276.6 L189.2 276.3 L189.8 276.0 L190.4 275.7 L190.9 275.4 L191.5 275.1 L192.1 274.8 L192.6 274.5 L193.2 274.2 L193.8 273.9 L194.3 273.6 L194.9 273.3 L195.5 273.0 L196.1 272.7 L196.7 272.4 L197.3 272.0 L197.9 271.7 L198.4 271.4 L199.0 271.0 L199.6 270.7 L200.2 270.3 L200.8 270.0 L201.4 269.7 L202.0 269.3 L202.6 269.0 L203.2 268.6 L203.7 268.3 L204.3 268.0 L204.9 267.6 L205.5 267.3 L206.1 267.0 L206.7 266.7 L207.3 266.4 L207.8 266.1 L208.4 265.8 L209.0 265.5 L209.5 265.2 L210.1 264.9 L210.7 264.6 L211.2 264.3 L211.8 264.0 L212.4 263.7 L213.0 263.4 L213.6 263.1 L214.2 262.8 L214.8 262.5 L215.4 262.2 L216.0 261.9 L216.6 261.6 L217.2 261.3 L217.8 261.0 L218.3 260.7 L218.9 260.4 L219.5 260.1 L220.1 259.8 L220.7 259.5 L221.4 259.2 L222.0 258.9 L222.6 258.5 L223.2 258.2 L223.8 257.9 L224.5 257.6 L225.1 257.3 L225.7 257.0 L226.3 256.7 L226.9 256.4 L227.6 256.1 L228.2 255.8 L228.8 255.5 L229.4 255.2 L230.0 254.9 L230.6 254.7 L231.2 254.4 L231.8 254.1 L232.4 253.8 L233.0 253.6 L233.6 253.3 L234.2 253.1 L234.8 252.8 L235.4 252.5 L236.1 252.3 L236.7 252.0 L237.3 251.8 L237.9 251.5 L238.5 251.2 L239.2 251.0 L239.8 250.7 L240.4 250.5 L241.1 250.2 L241.7 250.0 L242.3 249.7 L242.9 249.5 L243.5 249.2 L244.1 249.0 L244.8 248.7 L245.4 248.5 L246.0 248.3 L246.7 248.0 L247.3 247.8 L247.9 247.5 L248.6 247.3 L249.2 247.0 L249.9 246.8 L250.5 246.6 L251.2 246.3 L251.8 246.1 L252.5 245.9 L253.1 245.6 L253.8 245.4 L254.4 245.2 L255.1 245.0 L255.7 244.8 L256.3 244.6 L256.9 244.4 L257.5 244.2 L258.1 244.0 L258.7 243.8 L259.3 243.7 L259.9 243.5 L260.5 243.3 L261.0 243.1 L261.6 242.9 L262.2 242.8 L262.9 242.6 L263.5 242.4 L264.1 242.2 L264.8 242.1 L265.5 241.9 L266.2 241.8 L266.9 241.6 L267.6 241.4 L268.4 241.3 L269.2 241.1 L270.0 241.0 L270.5 240.9 L271.1 240.8 L271.7 240.7 L272.2 240.6 L272.8 240.5 L273.4 240.4 L274.0 240.4 L274.6 240.3 L275.2 240.2 L275.8 240.1 L276.4 240.0 L277.1 239.9 L277.7 239.8 L278.4 239.7 L279.0 239.6 L279.7 239.6 L280.3 239.5 L281.0 239.4 L281.7 239.3 L282.4 239.2 L283.0 239.2 L283.7 239.1 L284.4 239.0 L285.1 238.9 L285.8 238.9 L286.5 238.8 L287.3 238.7 L288.0 238.7 L288.7 238.6 L289.4 238.6 L290.1 238.5 L290.9 238.5 L291.6 238.4 L292.3 238.4 L293.1 238.3 L293.8 238.3 L294.4 238.3 L295.0 238.2 L295.6 238.2 L296.3 238.2 L296.9 238.2 L297.5 238.2 L298.1 238.2 L298.8 238.1 L299.4 238.1 L300.1 238.1 L300.7 238.1 L301.4 238.1 L302.0 238.1 L302.7 238.1 L303.4 238.1 L304.0 238.1 L304.7 238.1 L305.4 238.1 L306.0 238.2 L306.7 238.2 L307.4 238.2 L308.1 238.2 L308.7 238.2 L309.4 238.2 L310.1 238.2 L310.8 238.2 L311.5 238.2 L312.2 238.3 L312.8 238.3 L313.5 238.3 L314.2 238.3 L314.9 238.3 L315.6 238.3 L316.3 238.3 L316.9 238.3 L317.6 238.4 L318.3 238.4 L319.0 238.4 L319.7 238.4 L320.3 238.4 L321.0 238.4 L321.7 238.4 L322.3 238.4 L323.0 238.4 L323.7 238.4 L324.3 238.4 L325.0 238.4 L325.7 238.4 L326.4 238.4 L327.1 238.4 L327.7 238.4 L328.4 238.4 L329.1 238.4 L329.8 238.4 L330.5 238.4 L331.2 238.4 L331.9 238.4 L332.6 238.4 L333.3 238.4 L334.0 238.4 L334.7 238.4 L335.4 238.4 L336.1 238.4 L336.8 238.4 L337.5 238.4 L338.1 238.4 L338.8 238.4 L339.5 238.4 L340.2 238.4 L340.9 238.4 L341.6 238.4 L342.2 238.4 L342.9 238.4 L343.6 238.4 L344.2 238.4 L344.9 238.4 L345.5 238.4 L346.2 238.4 L346.8 238.4 L347.4 238.4 L348.0 238.4 L348.7 238.4 L349.3 238.4 L349.9 238.4 L350.5 238.4 L351.1 238.4 L351.6 238.4 L352.2 238.4 L353.0 238.4 L353.8 238.4 L354.6 238.4 L355.4 238.4 L356.1 238.5 L356.9 238.5 L357.7 238.5 L358.4 238.5 L359.2 238.5 L359.9 238.5 L360.6 238.6 L361.3 238.6 L362.0 238.6 L362.7 238.6 L363.4 238.6 L364.1 238.7 L364.8 238.7 L365.4 238.7 L366.1 238.7 L366.7 238.8 L367.3 238.8 L367.9 238.8 L368.5 238.8 L369.0 238.8 L369.6 238.9 L370.1 238.9 L370.7 238.9 L371.2 238.9 L371.7 239.0 L372.1 239.0 L372.6 239.0 L373.7 239.1 L374.7 239.1 L375.4 239.2 L376.0 239.2 L376.6 239.3 L377.0 239.3 L377.5 239.4 L378.0 239.4 L378.5 239.5 L379.2 239.6 L380.0 239.7 L380.5 239.8 L381.1 239.8 L381.7 239.9 L382.3 240.0 L382.9 240.0 L383.6 240.1 L384.3 240.2 L384.9 240.3 L385.6 240.4 L386.3 240.5 L387.0 240.6 L387.7 240.6 L388.4 240.7 L389.1 240.8 L389.8 240.9 L390.4 241.0 L391.1 241.1 L391.7 241.2 L392.3 241.3 L393.0 241.4 L393.7 241.5 L394.4 241.7 L395.1 241.8 L395.8 242.0 L396.4 242.1 L397.1 242.2 L397.7 242.4 L398.4 242.5 L399.0 242.7 L399.7 242.8 L400.4 242.9 L401.1 243.0 L401.8 243.1 L402.5 243.2 L403.1 243.3 L403.8 243.3 L404.5 243.4 L405.1 243.4 L405.8 243.4 L406.5 243.4 L407.2 243.4 L407.9 243.5 L408.7 243.5 L409.4 243.5 L410.1 243.5 L410.8 243.5 L411.5 244.0 L412.2 243.6 L412.8 243.6 L413.5 243.3 L414.1 243.5 L414.7 243.3 L415.5 243.9 L416.2 243.7 L416.9 243.8 L417.6 244.5 L418.3 243.7 L419.0 244.6 L419.6 244.6 L420.3 244.9 L420.9 245.0 L421.5 245.5 L422.1 246.4 L422.7 246.4 L423.3 246.1 L423.9 246.0 L424.6 246.2 L425.3 245.8 L425.9 244.9 L426.5 245.5 L427.1 245.2 L427.7 245.6 L428.3 245.5 L429.0 245.4 L429.6 245.4 L430.3 245.2 L431.1 245.4 L431.7 245.3 L432.3 245.1 L433.0 244.5 L433.7 245.9 L434.4 245.7 L435.1 246.4 L435.8 245.0 L436.5 244.8 L437.2 244.6 L437.9 245.4 L438.6 246.3 L439.3 246.6 L440.0 247.7 L440.7 247.0 L441.3 246.0 L442.0 248.1 L442.7 246.0 L443.4 246.5 L444.0 246.5 L444.7 246.9 L445.3 246.8 L446.0 247.1 L446.6 248.7 L447.2 248.8 L447.8 249.2 L448.4 249.7 L448.9 248.9 L449.5 249.2 L450.0 249.0 L450.6 249.4 L451.1 251.1 L451.6 251.8 L452.0 252.3 L452.5 252.4 L453.0 253.2 L453.4 252.7 L453.9 256.0 L454.3 254.7 L454.7 254.0 L455.2 255.9 L455.6 255.1 L456.0 256.3 L456.4 257.0 L456.8 257.7 L457.2 259.0 L457.6 256.6 L458.0 259.4 L458.3 258.8 L458.7 260.7 L459.1 260.7 L459.4 260.8 L459.8 261.7 L460.1 263.4 L460.4 263.7 L460.7 263.7 L461.3 265.2 L461.9 265.7 L462.4 263.4 L462.8 266.4 L463.3 266.5 L463.8 265.8 L464.6 266.6 L465.4 267.1 L466.1 267.3 L466.9 265.0 L467.1 265.2 L467.4 264.3 L467.6 266.0 L467.8 264.0 L468.0 263.4 L468.2 263.2 L468.4 260.1 L468.7 261.2 L468.9 259.4 L469.1 259.6 L469.4 260.8 L469.6 259.9 L469.9 258.3 L470.2 256.5 L470.6 258.6 L470.9 256.6 L471.3 254.5 L471.6 253.7 L472.0 254.4 L472.4 252.9 L472.8 252.8 L473.2 253.4 L473.6 251.7 L474.0 252.6 L474.6 250.6 L475.2 251.0 L475.7 250.2 L476.4 249.0 L477.0 251.4 L477.7 250.6 L478.4 249.5 L479.1 252.4 L479.7 250.5 L480.3 251.2 L480.9 250.3 L481.5 252.2 L482.2 250.7 L482.8 252.7 L483.5 253.3 L484.2 250.7 L484.9 253.7 L485.6 252.3 L486.3 254.3 L486.9 253.5 L487.5 255.0 L488.1 255.3 L488.7 253.7 L489.3 255.6 L490.0 255.4 L490.6 253.7 L491.2 254.1 L491.9 256.6 L492.5 256.5 L493.1 259.2 L493.8 257.0 L494.4 256.9 L494.9 257.4 L495.4 258.1 L496.0 259.0 L496.5 258.5 L497.1 260.1 L497.6 260.6 L498.1 260.4 L498.7 261.4 L499.2 261.6 L499.7 262.5 L500.3 262.6 L500.8 263.0 L501.3 264.4 L501.7 264.7 L502.2 264.9 L502.6 265.7 L503.1 266.7 L503.6 266.3 L504.1 266.5 L504.5 267.3 L504.9 267.9 L505.3 268.4 L505.7 269.1 L506.1 269.6 L506.5 270.2 L506.8 270.7 L507.1 271.2 L507.4 271.6 L507.7 272.0 L508.4 273.0 L508.8 273.7 L509.2 274.1 L509.6 274.2 L510.1 273.9 L510.5 273.2 L511.1 272.5 L511.8 272.2 L512.3 272.2 L512.9 272.2 L513.6 272.3 L514.3 272.4 L515.0 272.7 L515.8 273.2 L516.6 273.8 L517.0 274.1 L517.3 274.5 L517.7 274.9 L518.1 275.4 L518.6 275.9 L519.0 276.4 L519.4 276.9 L519.9 277.5 L520.3 278.1 L520.7 278.7 L521.2 279.3 L521.6 279.9 L522.0 280.6 L522.4 281.2 L522.8 281.9 L523.2 282.6 L523.5 283.1 L523.8 283.7 L524.1 284.2 L524.3 284.8 L524.6 285.4 L524.9 286.0 L525.2 286.6 L525.4 287.2 L525.7 287.8 L526.0 288.4 L526.2 289.1 L526.5 289.7 L526.7 290.4 L527.0 291.0 L527.2 291.7 L527.5 292.3 L527.7 293.0 L528.0 293.7 L528.2 294.3 L528.5 295.0 L528.7 295.7 L528.9 296.3 L529.1 296.9 L529.3 297.5 L529.5 298.2 L529.7 298.8 L529.9 299.5 L530.1 300.1 L530.3 300.8 L530.4 301.5 L530.6 302.1 L530.8 302.8 L531.0 303.5 L531.2 304.2 L531.3 304.8 L531.5 305.5 L531.7 306.1 L531.9 306.8 L532.0 307.4 L532.2 308.1 L532.4 308.7 L532.6 309.3 L532.7 309.9 L532.9 310.4 L533.1 311.0 L533.3 311.7 L533.6 312.4 L533.8 313.1 L534.0 313.8 L534.3 314.5 L534.5 315.1 L534.7 315.8 L535.0 316.4 L535.2 317.0 L535.4 317.6 L535.6 318.2 L535.9 318.8 L536.1 319.4 L536.4 319.9 L536.6 320.4 L536.9 321.0 L537.1 321.5 L537.4 322.0 L537.8 322.7 L538.2 323.3 L538.6 324.0 L539.0 324.6 L539.4 325.2 L539.9 325.7 L540.3 326.2 L540.7 326.8 L541.2 327.3 L541.6 327.7 L542.0 328.2 L542.5 328.6 L542.9 329.0 L543.5 329.5 L544.1 329.9 L544.7 330.3 L545.3 330.5 L546.0 330.8 L546.6 331.1 L547.2 331.4 L547.8 331.8 L548.4 332.3 L548.8 332.7 L549.2 333.1 L549.7 333.6 L550.1 334.1 L550.5 334.7 L550.9 335.2 L551.4 335.7 L551.8 336.3 L552.2 336.8 L552.6 337.4 L553.1 337.9 L553.5 338.4 L553.9 338.8 L554.4 339.4 L555.0 339.9 L555.5 340.5 L556.1 341.1 L556.6 341.6 L557.1 342.1 L557.7 342.5 L558.2 342.9 L558.8 343.2 L559.3 343.4 L560.0 343.5 L560.7 343.6 L561.4 343.5 L562.0 343.3 L562.7 343.1 L563.4 342.7 L564.1 342.2 L564.8 341.7 L565.2 341.4 L565.6 341.0 L566.0 340.6 L566.4 340.1 L566.8 339.7 L567.3 339.2 L567.7 338.6 L568.1 338.1 L568.5 337.5 L568.9 336.8 L569.2 336.2 L569.6 335.5 L570.0 334.8 L570.3 334.0 L570.5 333.5 L570.7 332.9 L570.9 332.3 L571.1 331.7 L571.3 331.0 L571.5 330.3 L571.7 329.6 L571.9 328.9 L572.0 328.2 L572.2 327.4 L572.4 326.7 L572.5 326.0 L572.7 325.2 L572.9 324.5 L573.0 323.8 L573.2 323.1 L573.3 322.5 L573.5 321.9 L573.6 321.3 L573.7 320.7 L573.9 320.2 L574.0 319.8 L574.3 318.6 L574.6 317.8 L574.9 317.1 L575.1 316.6 L575.3 316.2 L575.5 315.8 L575.8 315.4 L576.3 315.0 L576.9 315.0 L577.4 314.9 L578.0 314.6 L578.6 313.6 L578.8 313.2 L578.9 312.7 L579.1 312.2 L579.2 311.6 L579.4 311.0 L579.5 310.4 L579.7 309.7 L579.8 309.0 L580.0 308.3 L580.1 307.5 L580.3 306.8 L580.4 306.0 L580.6 305.3 L580.7 304.6 L580.9 303.9 L581.0 303.2 L581.2 302.5 L581.3 301.9 L581.5 301.2 L581.6 300.5 L581.8 299.8 L582.0 299.1 L582.1 298.4 L582.3 297.7 L582.5 297.0 L582.6 296.3 L582.8 295.7 L583.0 295.0 L583.2 294.4 L583.3 293.8 L583.5 293.2 L583.8 292.6 L584.0 292.0 L584.3 291.4 L584.6 290.7 L585.0 290.1 L585.3 289.5 L585.7 289.0 L586.1 288.4 L586.4 287.8 L586.8 287.3 L587.2 286.8 L587.5 286.3 L587.9 285.8 L588.2 285.3 L588.5 284.8 L588.9 284.2 L589.2 283.7 L589.5 283.2 L589.8 282.8 L590.1 282.3 L590.4 281.8 L590.6 281.2 L590.9 280.4 L591.2 279.4 L591.3 278.9 L591.4 278.4 L591.6 277.9 L591.7 277.3 L591.8 276.7 L591.9 276.1 L592.0 275.5 L592.1 274.8 L592.3 274.1 L592.4 273.5 L592.5 272.8 L592.6 272.0 L592.7 271.3 L592.9 270.6 L593.0 269.9 L593.1 269.2 L593.2 268.4 L593.4 267.7 L593.5 267.0 L593.6 266.3 L593.8 265.7 L593.9 265.0 L594.0 264.3 L594.2 263.7 L594.3 263.0 L594.5 262.3 L594.7 261.6 L594.8 260.9 L595.0 260.2 L595.1 259.5 L595.3 258.8 L595.5 258.1 L595.6 257.5 L595.8 256.8 L596.0 256.1 L596.2 255.4 L596.3 254.8 L596.5 254.2 L596.7 253.5 L596.8 252.9 L597.0 252.3 L597.2 251.8 L597.3 251.2 L597.5 250.7 L597.8 249.8 L598.1 249.0 L598.3 248.1 L598.6 247.3 L598.9 246.5 L599.2 245.8 L599.5 245.1 L599.8 244.5 L600.1 243.9 L600.3 243.4 L600.6 243.0 L600.9 242.8 L601.1 242.6 L601.4 242.6 L601.7 242.8 L602.0 243.1 L602.3 243.7 L602.6 244.4 L602.9 245.2 L603.2 246.1 L603.5 247.0 L603.8 248.0 L604.0 248.5 L604.1 248.9 L604.3 249.5 L604.5 250.0 L604.6 250.5 L604.8 251.1 L605.0 251.7 L605.2 252.3 L605.4 252.9 L605.6 253.6 L605.8 254.2 L605.9 254.9 L606.1 255.6 L606.3 256.3 L606.5 257.0 L606.7 257.7 L606.9 258.4 L607.1 259.1 L607.2 259.9 L607.4 260.6 L607.5 261.2 L607.7 261.8 L607.8 262.5 L607.9 263.2 L608.0 264.0 L608.2 264.7 L608.3 265.5 L608.4 266.3 L608.5 267.1 L608.7 267.9 L608.8 268.7 L608.9 269.5 L609.0 270.3 L609.2 271.1 L609.3 271.9 L609.4 272.6 L609.5 273.3 L609.6 274.0 L609.8 274.6 L609.9 275.2 L610.0 275.8 L610.1 276.3 L610.2 276.7 L610.4 277.1 L610.5 277.4 L610.6 277.6 L610.9 277.9 L611.1 277.9 L611.4 277.7 L611.6 277.4 L611.9 276.8 L612.1 276.1 L612.4 275.3 L612.6 274.4 L612.9 273.5 L613.1 272.4 L613.4 271.4 L613.6 270.4 L613.7 269.9 L613.8 269.4 L613.9 268.8 L614.0 268.2 L614.1 267.6 L614.2 266.9 L614.3 266.2 L614.4 265.5 L614.5 264.8 L614.6 264.1 L614.7 263.3 L614.8 262.6 L614.9 261.8 L615.0 261.1 L615.1 260.3 L615.2 259.6 L615.3 258.9 L615.4 258.2 L615.5 257.5 L615.6 256.8 L615.7 256.1 L615.8 255.5 L615.9 254.9 L616.1 254.4 L616.2 253.9 L616.3 253.4 L616.6 252.4 L616.9 251.6 L617.2 250.8 L617.5 250.2 L617.8 249.6 L618.1 249.1 L618.4 248.7 L618.8 248.2 L619.1 247.9 L619.5 247.5 L619.9 247.1 L620.4 246.6 L621.0 246.2 L621.7 245.8 L622.4 245.5 L623.0 245.2 L623.7 245.0 L624.3 244.8 L624.8 244.7 L625.3 244.7 L626.0 244.9 L626.4 245.5 L626.7 246.2 L627.1 247.1 L627.3 247.7 L627.6 248.4 L627.8 249.2 L628.1 250.0 L628.3 250.7 L628.6 251.3 L628.9 251.6 L629.5 251.4 L630.1 250.7 L630.8 250.0 L631.6 249.8 L632.0 250.0 L632.5 250.4 L632.9 250.8 L633.4 251.3 L633.9 251.9 L634.5 252.5 L635.0 253.1 L635.6 253.7 L636.1 254.3 L636.6 254.7 L637.1 255.2 L637.6 255.6 L638.1 256.1 L638.6 256.5 L639.1 257.0 L639.6 257.4 L640.1 258.0 L640.6 258.5 L641.1 259.1 L641.5 259.7 L641.8 260.2 L642.1 260.8 L642.4 261.3 L642.7 261.9 L642.9 262.5 L643.2 263.1 L643.4 263.8 L643.7 264.4 L643.9 265.1 L644.1 265.8 L644.4 266.4 L644.6 267.2 L644.8 267.9 L645.1 268.6 L645.3 269.2 L645.5 269.8 L645.7 270.5 L645.9 271.1 L646.1 271.8 L646.3 272.5 L646.5 273.2 L646.7 274.0 L646.9 274.7 L647.1 275.4 L647.3 276.1 L647.5 276.8 L647.7 277.4 L647.9 278.1 L648.1 278.7 L648.3 279.3 L648.5 279.8 L648.7 280.3 L649.1 281.2 L649.5 281.9 L649.9 282.5 L650.3 283.0 L650.8 283.5 L651.2 283.9 L651.6 284.4 L651.9 285.0 L652.3 285.7 L652.5 286.2 L652.8 286.8 L653.0 287.4 L653.2 288.0 L653.4 288.6 L653.6 289.2 L653.8 289.8 L654.0 290.5 L654.2 291.2 L654.4 291.8 L654.6 292.5 L654.8 293.1 L655.0 293.8 L655.2 294.4 L655.4 295.1 L655.6 295.8 L655.8 296.5 L656.0 297.2 L656.2 297.9 L656.4 298.6 L656.6 299.3 L656.8 300.0 L657.0 300.7 L657.3 301.3 L657.5 301.8 L657.7 302.3 L658.0 302.8 L658.6 303.4 L659.2 303.8 L659.8 304.0 L660.4 304.1 L661.1 304.3 L661.7 304.7 L662.2 305.5 L662.4 305.9 L662.6 306.4 L662.8 306.9 L662.9 307.5 L663.1 308.1 L663.3 308.7 L663.4 309.3 L663.6 310.0 L663.7 310.7 L663.9 311.4 L664.0 312.1 L664.2 312.8 L664.3 313.5 L664.5 314.2 L664.6 314.9 L664.8 315.6 L664.9 316.3 L665.0 316.9 L665.2 317.6 L665.3 318.4 L665.4 319.1 L665.5 319.9 L665.7 320.6 L665.8 321.4 L665.9 322.2 L666.0 322.9 L666.1 323.7 L666.3 324.4 L666.4 325.1 L666.5 325.7 L666.6 326.3 L666.8 326.8 L666.9 327.3 L667.1 327.7 L667.2 328.0 L667.8 328.7 L668.4 328.8 L669.0 328.3 L669.6 327.5 L670.3 326.2 L670.5 325.8 L670.6 325.4 L670.8 324.9 L671.0 324.4 L671.1 323.9 L671.3 323.3 L671.5 322.7 L671.7 322.1 L671.8 321.4 L672.0 320.7 L672.2 320.1 L672.4 319.4 L672.6 318.6 L672.7 317.9 L672.9 317.2 L673.1 316.5 L673.3 315.7 L673.4 315.0 L673.6 314.3 L673.8 313.6 L673.9 313.0 L674.1 312.4 L674.3 311.8 L674.4 311.2 L674.6 310.6 L674.7 309.9 L674.9 309.3 L675.0 308.7 L675.2 308.0 L675.4 307.4 L675.5 306.7 L675.7 306.1 L675.8 305.4 L676.0 304.7 L676.1 304.1 L676.3 303.4 L676.4 302.8 L676.6 302.1 L676.7 301.5 L676.9 300.8 L677.0 300.2 L677.1 299.6 L677.3 298.9 L677.4 298.3 L677.5 297.6 L677.7 296.9 L677.8 296.2 L677.9 295.4 L678.1 294.7 L678.2 293.9 L678.3 293.2 L678.5 292.4 L678.6 291.6 L678.7 290.9 L678.8 290.1 L678.9 289.4 L679.0 288.7 L679.2 288.0 L679.3 287.4 L679.4 286.8 L679.4 286.2 L679.5 285.6 L679.6 285.1 L679.7 284.7 L679.7 284.3 L679.8 283.9" fill="none" stroke="#1466d8" stroke-width="2.3" stroke-linejoin="round" stroke-linecap="round"/>
<path d="M54.4 363.7 L54.7 363.7 L55.1 363.7 L55.5 363.7 L55.9 363.7 L56.4 363.7 L56.8 363.7 L57.3 363.7 L57.8 363.7 L58.4 363.7 L58.9 363.7 L59.5 363.7 L60.1 363.7 L60.7 363.9 L61.3 363.7 L62.0 364.2 L62.6 363.4 L63.3 363.7 L64.0 363.4 L64.7 363.8 L65.4 364.0 L66.1 362.5 L66.9 363.1 L67.6 363.5 L68.4 364.1 L69.1 363.1 L69.9 363.5 L70.7 363.6 L71.5 364.1 L72.3 363.8 L73.0 364.8 L73.8 363.4 L74.6 363.8 L75.4 363.6 L76.2 363.3 L77.0 364.2 L77.8 362.7 L78.6 364.9 L79.4 362.5 L80.2 363.1 L81.0 364.2 L81.8 363.8 L82.5 363.6 L83.3 363.1 L84.1 363.3 L84.8 364.8 L85.5 363.7 L86.3 364.2 L87.0 363.6 L87.7 363.3 L88.4 364.0 L89.1 364.1 L89.7 363.5 L90.4 363.2 L91.0 363.6 L91.6 363.3 L92.2 364.1 L92.8 363.7 L93.4 363.7 L93.9 363.5 L94.4 364.1 L94.9 363.8 L95.4 364.2 L95.9 363.3 L96.3 364.1 L96.7 363.2 L98.6 363.3 L100.0 364.4 L101.1 364.1 L101.8 365.1 L102.4 363.6 L102.7 363.8 L103.0 364.7 L103.2 364.2 L103.4 364.3 L103.8 364.8 L104.3 363.4 L105.0 364.2 L105.5 364.2 L106.0 364.9 L106.5 365.2 L107.0 364.8 L107.4 364.2 L107.8 364.8 L108.3 365.3 L108.7 365.3 L109.2 365.4 L109.8 365.4 L110.4 365.5 L111.1 365.6 L111.8 365.7 L112.7 365.7 L113.6 365.8 L114.7 365.9 L115.9 365.9 L117.2 366.0 L117.6 366.0 L118.1 366.0 L118.6 366.0 L119.0 366.1 L119.5 366.1 L120.0 366.1 L120.6 366.1 L121.1 366.1 L121.6 366.1 L122.2 366.1 L122.7 366.2 L123.3 366.2 L123.9 366.2 L124.5 366.2 L125.1 366.2 L125.7 366.2 L126.3 366.2 L127.0 366.2 L127.6 366.3 L128.3 366.3 L128.9 366.3 L129.6 366.3 L130.2 366.3 L130.9 366.3 L131.6 366.3 L132.3 366.3 L133.0 366.3 L133.7 366.3 L134.4 366.3 L135.1 366.4 L135.8 366.4 L136.5 366.4 L137.2 366.4 L137.9 366.4 L138.6 366.4 L139.4 366.4 L140.1 366.4 L140.8 366.4 L141.5 366.4 L142.3 366.4 L143.0 366.4 L143.7 366.4 L144.4 366.4 L145.2 366.4 L145.9 366.4 L146.6 366.4 L147.4 366.4 L148.1 366.4 L148.8 366.4 L149.5 366.4 L150.2 366.4 L150.9 366.4 L151.6 366.4 L152.3 366.3 L153.0 366.3 L153.7 366.3 L154.4 366.3 L155.1 366.3 L155.7 366.3 L156.4 366.3 L157.0 366.3 L157.6 366.2 L158.3 366.2 L158.9 366.2 L159.5 366.2 L160.1 366.2 L160.8 366.2 L161.4 366.2 L162.0 366.1 L162.6 366.1 L163.3 366.1 L163.9 366.1 L164.5 366.0 L165.1 366.0 L165.7 366.0 L166.4 366.0 L167.0 366.0 L167.6 365.9 L168.2 365.9 L168.9 365.9 L169.5 365.9 L170.1 365.8 L170.7 365.8 L171.4 365.8 L172.0 365.8 L172.6 365.7 L173.3 365.7 L173.9 365.7 L174.5 365.6 L175.2 365.6 L175.8 365.6 L176.5 365.5 L177.1 365.5 L177.8 365.5 L178.4 365.5 L179.1 365.4 L179.7 365.4 L180.4 365.4 L181.1 365.3 L181.7 365.3 L182.4 365.3 L183.1 365.2 L183.8 365.2 L184.4 365.2 L185.1 365.1 L185.8 365.1 L186.5 365.1 L187.2 365.0 L187.9 365.0 L188.6 365.0 L189.3 364.9 L190.1 364.9 L190.8 364.8 L191.5 364.8 L192.2 364.8 L193.0 364.7 L193.7 364.7 L194.5 364.7 L195.2 364.6 L196.0 364.6 L196.6 364.6 L197.2 364.5 L197.7 364.5 L198.3 364.5 L198.9 364.5 L199.6 364.4 L200.2 364.4 L200.8 364.4 L201.4 364.3 L202.1 364.3 L202.7 364.3 L203.3 364.2 L204.0 364.2 L204.6 364.2 L205.3 364.2 L206.0 364.1 L206.6 364.1 L207.3 364.1 L208.0 364.0 L208.6 364.0 L209.3 363.9 L210.0 363.9 L210.7 363.9 L211.4 363.8 L212.1 363.8 L212.8 363.8 L213.5 363.7 L214.2 363.7 L214.9 363.7 L215.6 363.6 L216.3 363.6 L217.0 363.6 L217.7 363.5 L218.4 363.5 L219.1 363.4 L219.8 363.4 L220.5 363.4 L221.3 363.3 L222.0 363.3 L222.7 363.3 L223.4 363.2 L224.1 363.2 L224.8 363.2 L225.5 363.1 L226.2 363.1 L226.9 363.0 L227.6 363.0 L228.3 363.0 L229.0 362.9 L229.7 362.9 L230.4 362.9 L231.1 362.8 L231.8 362.8 L232.4 362.8 L233.1 362.7 L233.8 362.7 L234.5 362.7 L235.1 362.6 L235.8 362.6 L236.5 362.6 L237.1 362.5 L237.8 362.5 L238.4 362.5 L239.1 362.4 L239.7 362.4 L240.3 362.4 L241.0 362.3 L241.6 362.3 L242.2 362.3 L242.8 362.2 L243.4 362.2 L244.0 362.2 L244.6 362.2 L245.1 362.1 L245.7 362.1 L246.3 362.1 L246.8 362.0 L247.4 362.0 L247.9 362.0 L248.5 362.0 L249.0 361.9 L249.5 361.9 L250.0 361.9 L250.9 361.9 L251.8 361.8 L252.7 361.8 L253.5 361.7 L254.3 361.7 L255.1 361.7 L255.9 361.6 L256.6 361.6 L257.3 361.6 L258.0 361.5 L258.7 361.5 L259.4 361.5 L260.0 361.4 L260.6 361.4 L261.2 361.4 L261.8 361.4 L262.4 361.3 L263.0 361.3 L263.6 361.3 L264.1 361.3 L264.7 361.2 L265.2 361.2 L265.8 361.2 L266.3 361.2 L266.9 361.2 L267.4 361.1 L268.0 361.1 L268.6 361.1 L269.1 361.1 L269.7 361.1 L270.3 361.0 L270.9 361.0 L271.5 361.0 L272.1 361.0 L272.7 361.0 L273.3 360.9 L274.0 360.9 L274.7 360.9 L275.4 360.9 L276.1 360.9 L276.8 360.9 L277.6 360.8 L278.4 360.8 L279.2 360.8 L279.7 360.8 L280.3 360.8 L280.9 360.8 L281.4 360.8 L282.0 360.7 L282.6 360.7 L283.2 360.7 L283.8 360.7 L284.3 360.7 L284.9 360.7 L285.6 360.7 L286.2 360.7 L286.8 360.7 L287.4 360.6 L288.0 360.6 L288.6 360.6 L289.3 360.6 L289.9 360.6 L290.6 360.6 L291.2 360.6 L291.8 360.6 L292.5 360.6 L293.2 360.6 L293.8 360.5 L294.5 360.5 L295.1 360.5 L295.8 360.5 L296.5 360.5 L297.1 360.5 L297.8 360.5 L298.5 360.5 L299.2 360.5 L299.8 360.5 L300.5 360.5 L301.2 360.5 L301.9 360.4 L302.6 360.4 L303.3 360.4 L304.0 360.4 L304.6 360.4 L305.3 360.4 L306.0 360.4 L306.7 360.4 L307.4 360.4 L308.1 360.4 L308.8 360.4 L309.5 360.4 L310.2 360.4 L310.8 360.3 L311.5 360.3 L312.2 360.3 L312.9 360.3 L313.6 360.3 L314.3 360.3 L315.0 360.3 L315.6 360.3 L316.3 360.3 L317.0 360.3 L317.7 360.3 L318.4 360.3 L319.0 360.3 L319.7 360.2 L320.4 360.2 L321.0 360.2 L321.7 360.2 L322.3 360.2 L323.0 360.2 L323.7 360.2 L324.3 360.2 L325.0 360.2 L325.7 360.2 L326.3 360.1 L327.0 360.1 L327.7 360.1 L328.4 360.1 L329.1 360.1 L329.8 360.1 L330.5 360.1 L331.2 360.1 L331.9 360.1 L332.6 360.0 L333.3 360.0 L334.0 360.0 L334.7 360.0 L335.5 360.0 L336.2 360.0 L336.9 360.0 L337.6 359.9 L338.3 359.9 L339.1 359.9 L339.8 359.9 L340.5 359.9 L341.2 359.9 L341.9 359.9 L342.6 359.8 L343.4 359.8 L344.1 359.8 L344.8 359.8 L345.5 359.8 L346.2 359.8 L346.9 359.8 L347.6 359.7 L348.3 359.7 L349.0 359.7 L349.7 359.7 L350.4 359.7 L351.0 359.7 L351.7 359.7 L352.4 359.7 L353.1 359.7 L353.7 359.7 L354.4 359.6 L355.0 359.6 L355.7 359.6 L356.3 359.6 L356.9 359.6 L357.5 359.6 L358.2 359.6 L358.8 359.6 L359.4 359.6 L360.0 359.6 L360.5 359.6 L361.1 359.6 L361.7 359.6 L362.2 359.6 L362.8 359.6 L363.3 359.6 L363.9 359.6 L364.4 359.6 L364.9 359.6 L365.4 359.6 L365.9 359.6 L366.3 359.6 L366.8 359.6 L367.9 359.6 L368.9 359.6 L369.9 359.7 L370.8 359.7 L371.7 359.7 L372.5 359.8 L373.2 359.8 L373.9 359.8 L374.6 359.9 L375.2 359.9 L375.8 360.0 L376.4 360.0 L376.9 360.1 L377.5 360.2 L378.0 360.2 L378.5 360.3 L379.0 360.4 L379.4 360.4 L379.9 360.5 L380.4 360.6 L380.9 360.6 L381.4 360.7 L382.0 360.8 L382.5 360.9 L383.1 360.9 L383.7 361.0 L384.3 361.1 L384.9 361.2 L385.6 361.3 L386.2 361.4 L386.8 361.4 L387.5 361.5 L388.1 361.6 L388.7 361.7 L389.3 361.8 L389.9 361.9 L390.5 362.0 L391.1 362.2 L391.8 362.3 L392.4 362.4 L393.0 362.5 L393.6 362.6 L394.2 362.7 L394.9 362.8 L395.5 362.9 L396.2 363.1 L396.8 363.2 L397.5 363.3 L398.2 363.4 L398.9 363.5 L399.6 363.6 L400.3 363.8 L401.1 363.9 L401.8 364.0 L402.4 364.1 L403.0 364.2 L403.6 364.3 L404.2 364.4 L404.8 364.5 L405.5 364.6 L406.1 364.7 L406.8 364.8 L407.4 364.9 L408.1 365.0 L408.8 365.1 L409.5 365.2 L410.2 365.3 L410.9 365.4 L411.6 365.5 L412.3 365.7 L413.0 365.8 L413.7 365.9 L414.4 366.0 L415.1 366.1 L415.8 366.2 L416.5 366.3 L417.1 366.4 L417.8 366.5 L418.5 366.6 L419.2 366.7 L419.8 366.8 L420.5 366.9 L421.1 367.0 L421.7 367.1 L422.3 367.1 L422.9 367.2 L423.5 367.3 L424.1 367.4 L424.7 367.4 L425.2 367.5 L426.1 367.6 L426.9 367.7 L427.7 367.8 L428.5 367.8 L429.2 367.9 L430.0 367.9 L430.7 368.0 L431.4 368.0 L432.1 368.1 L432.7 368.1 L433.4 368.1 L434.0 368.2 L434.6 368.2 L435.3 368.2 L435.9 368.2 L436.5 368.3 L437.1 368.3 L437.7 368.3 L438.2 368.4 L438.8 368.4 L439.4 368.4 L440.0 368.5 L440.7 368.6 L441.5 368.6 L442.2 368.7 L442.9 368.8 L443.5 368.9 L444.2 368.9 L444.8 369.0 L445.4 369.1 L446.1 369.2 L446.7 369.3 L447.3 369.4 L447.9 369.4 L448.5 369.5 L449.1 369.7 L449.7 369.8 L450.4 369.9 L451.0 370.0 L451.7 370.1 L452.3 370.3 L453.0 370.4 L453.7 370.6 L454.4 370.8 L455.1 371.0 L455.8 371.1 L456.5 371.3 L457.1 371.5 L457.8 371.7 L458.5 371.9 L459.1 372.1 L459.7 372.2 L460.3 372.4 L460.9 372.5 L461.4 372.7 L461.9 372.8 L462.8 373.0 L463.6 373.2 L464.2 373.4 L464.8 373.6 L465.3 373.7 L465.9 373.8 L466.6 373.9 L467.4 373.9 L468.0 373.9 L468.6 373.8 L469.2 373.7 L469.9 373.6 L470.6 373.5 L471.3 373.4 L472.0 373.2 L472.7 373.1 L473.4 373.0 L474.1 372.9 L474.8 372.8 L475.5 372.8 L476.1 372.8 L476.8 372.8 L477.4 372.9 L478.0 373.0 L478.5 373.1 L479.1 373.3 L479.7 373.4 L480.3 373.6 L480.9 373.8 L481.5 374.0 L482.2 374.2 L483.0 374.4 L483.8 374.6 L484.3 374.7 L484.9 374.9 L485.5 375.0 L486.1 375.1 L486.7 375.3 L487.3 375.4 L488.0 375.6 L488.6 375.7 L489.3 375.9 L490.0 376.0 L490.7 376.2 L491.4 376.4 L492.1 376.5 L492.8 376.7 L493.5 376.9 L494.2 377.0 L494.9 377.2 L495.6 377.4 L496.2 377.5 L496.9 377.7 L497.5 377.9 L498.2 378.0 L498.8 378.2 L499.4 378.3 L500.1 378.5 L500.7 378.6 L501.4 378.8 L502.0 379.0 L502.7 379.1 L503.3 379.3 L504.0 379.5 L504.6 379.6 L505.2 379.8 L505.9 380.0 L506.5 380.1 L507.1 380.3 L507.7 380.5 L508.3 380.7 L508.9 380.8 L509.5 381.0 L510.1 381.2 L510.8 381.4 L511.4 381.6 L512.0 381.9 L512.7 382.1 L513.3 382.3 L513.9 382.5 L514.5 382.8 L515.1 383.0 L515.7 383.2 L516.3 383.5 L516.9 383.7 L517.4 384.0 L518.0 384.2 L518.6 384.5 L519.2 384.7 L519.8 385.0 L520.4 385.2 L521.0 385.5 L521.6 385.8 L522.2 386.1 L522.9 386.4 L523.5 386.7 L524.1 387.0 L524.7 387.3 L525.4 387.7 L526.0 388.0 L526.6 388.3 L527.3 388.6 L527.9 388.9 L528.5 389.3 L529.1 389.6 L529.7 389.8 L530.3 390.1 L530.9 390.4 L531.4 390.6 L532.0 390.8 L532.7 391.1 L533.4 391.3 L534.1 391.4 L534.8 391.6 L535.4 391.7 L536.0 391.8 L536.7 391.9 L537.3 392.0 L537.9 392.1 L538.6 392.2 L539.3 392.3 L540.0 392.5 L540.7 392.6 L541.3 392.7 L541.9 392.8 L542.5 393.0 L543.2 393.1 L543.8 393.2 L544.5 393.3 L545.2 393.5 L545.9 393.6 L546.5 393.7 L547.2 393.9 L547.9 394.0 L548.6 394.1 L549.2 394.2 L549.9 394.4 L550.5 394.5 L551.1 394.6 L551.7 394.7 L552.4 394.8 L553.2 395.0 L553.9 395.2 L554.5 395.3 L555.2 395.5 L555.9 395.6 L556.5 395.8 L557.2 395.9 L557.8 396.0 L558.4 396.1 L559.1 396.2 L559.7 396.3 L560.4 396.3 L561.1 396.3 L561.8 396.3 L562.5 396.3 L563.2 396.2 L563.9 396.2 L564.6 396.1 L565.3 396.0 L566.0 395.9 L566.7 395.8 L567.4 395.7 L568.0 395.5 L568.6 395.4 L569.2 395.2 L569.9 395.0 L570.5 394.7 L571.1 394.5 L571.7 394.2 L572.2 393.9 L572.8 393.6 L573.3 393.2 L573.8 392.7 L574.4 392.1 L575.0 391.4 L575.3 391.0 L575.6 390.5 L576.0 390.0 L576.3 389.5 L576.6 388.9 L577.0 388.3 L577.3 387.7 L577.7 387.0 L578.0 386.4 L578.3 385.7 L578.7 385.1 L579.0 384.4 L579.4 383.7 L579.7 383.1 L580.0 382.4 L580.4 381.8 L580.7 381.2 L581.1 380.6 L581.4 380.1 L581.8 379.5 L582.2 378.9 L582.6 378.3 L583.0 377.7 L583.5 377.2 L583.9 376.6 L584.3 376.1 L584.7 375.5 L585.1 375.0 L585.5 374.5 L585.9 374.0 L586.3 373.4 L586.7 372.9 L587.1 372.4 L587.4 371.8 L587.8 371.3 L588.2 370.7 L588.5 370.1 L588.9 369.5 L589.2 368.9 L589.5 368.3 L589.9 367.7 L590.2 367.1 L590.5 366.5 L590.8 365.9 L591.1 365.4 L591.4 364.8 L591.8 364.2 L592.1 363.6 L592.4 363.1 L592.7 362.5 L593.1 361.8 L593.5 361.2 L593.9 360.4 L594.3 359.7 L594.7 359.0 L595.1 358.3 L595.5 357.6 L595.8 357.0 L596.2 356.4 L596.6 355.9 L596.9 355.4 L597.2 355.1 L597.5 354.8 L598.2 354.3 L598.8 354.5 L599.3 355.3 L599.9 356.9 L600.0 357.3 L600.2 357.8 L600.3 358.3 L600.4 358.8 L600.6 359.4 L600.7 360.1 L600.8 360.8 L601.0 361.5 L601.1 362.2 L601.3 362.9 L601.4 363.7 L601.5 364.4 L601.7 365.2 L601.8 366.0 L602.0 366.7 L602.1 367.4 L602.3 368.2 L602.5 368.9 L602.6 369.5 L602.8 370.2 L602.9 370.7 L603.1 371.3 L603.4 372.1 L603.6 372.9 L603.9 373.6 L604.2 374.3 L604.5 375.0 L604.8 375.6 L605.1 376.2 L605.4 376.8 L605.7 377.4 L606.0 377.9 L606.3 378.5 L606.6 379.0 L606.8 379.6 L607.1 380.1 L607.4 380.9 L607.8 381.7 L608.1 382.5 L608.4 383.3 L608.7 384.1 L609.0 384.8 L609.3 385.4 L609.6 385.8 L610.0 386.2 L610.3 386.3 L610.7 386.3 L611.1 386.1 L611.5 385.8 L611.9 385.3 L612.3 384.8 L612.7 384.2 L613.1 383.5 L613.5 382.7 L613.9 381.9 L614.3 381.0 L614.5 380.5 L614.7 380.0 L614.9 379.4 L615.0 378.7 L615.2 378.1 L615.4 377.4 L615.5 376.7 L615.7 375.9 L615.9 375.2 L616.0 374.4 L616.2 373.7 L616.4 373.0 L616.5 372.3 L616.7 371.6 L616.9 371.0 L617.0 370.4 L617.2 369.8 L617.4 369.3 L617.6 368.9 L618.1 367.9 L618.7 367.2 L619.2 366.7 L619.8 366.4 L620.4 366.1 L621.0 365.9 L621.6 365.7 L622.3 365.5 L623.0 365.3 L623.7 365.2 L624.5 365.2 L625.2 365.3 L625.8 365.4 L626.4 365.7 L626.8 366.2 L627.2 366.9 L627.5 367.7 L627.7 368.6 L627.9 369.4 L628.2 369.9 L628.5 370.2 L628.8 370.1 L629.2 369.6 L629.5 369.0 L629.9 368.2 L630.3 367.5 L630.7 366.9 L631.2 366.5 L631.8 366.4 L632.4 366.3 L633.0 366.4 L633.7 366.5 L634.5 366.7 L635.2 367.0 L636.0 367.3 L636.5 367.5 L637.0 367.8 L637.6 368.1 L638.1 368.4 L638.7 368.7 L639.3 369.0 L639.9 369.4 L640.5 369.8 L641.1 370.3 L641.7 370.8 L642.4 371.3 L642.8 371.7 L643.3 372.1 L643.7 372.5 L644.2 372.9 L644.7 373.4 L645.2 373.9 L645.7 374.4 L646.2 374.9 L646.7 375.4 L647.2 375.9 L647.7 376.4 L648.2 376.9 L648.7 377.4 L649.2 377.9 L649.6 378.4 L650.1 378.9 L650.5 379.3 L651.0 379.8 L651.5 380.3 L652.0 380.8 L652.5 381.2 L652.9 381.7 L653.4 382.1 L653.9 382.6 L654.3 383.0 L654.7 383.4 L655.2 383.9 L655.6 384.3 L656.0 384.8 L656.5 385.3 L656.9 385.8 L657.3 386.3 L657.7 386.8 L658.1 387.4 L658.5 387.9 L658.8 388.5 L659.2 389.0 L659.6 389.6 L659.9 390.2 L660.3 390.8 L660.7 391.3 L661.0 391.9 L661.4 392.4 L661.8 392.9 L662.1 393.4 L662.5 393.8 L663.0 394.4 L663.5 395.0 L664.0 395.6 L664.5 396.1 L665.0 396.6 L665.5 397.1 L666.0 397.6 L666.5 398.0 L667.0 398.3 L667.6 398.5 L668.1 398.6 L668.7 398.6 L669.3 398.5 L669.9 398.4 L670.5 398.2 L671.1 397.9 L671.7 397.5 L672.3 397.1 L672.9 396.7 L673.5 396.3 L674.1 395.8 L674.6 395.4 L675.1 395.0 L675.5 394.4 L676.0 393.8 L676.5 393.2 L676.9 392.6 L677.4 391.9 L677.8 391.3 L678.2 390.7 L678.5 390.1 L678.9 389.6 L679.1 389.3 L679.4 389.0 L680.1 389.4 L680.2 390.6" fill="none" stroke="#ef4040" stroke-width="2.3" stroke-linejoin="round" stroke-linecap="round"/>
<path d="M54.4 409.8 L54.8 409.9 L55.2 410.0 L55.8 410.2 L56.4 410.4 L57.1 410.6 L57.8 410.8 L58.5 411.0 L59.3 411.2 L60.0 411.4 L60.8 411.5 L61.5 411.5 L62.2 411.7 L62.8 411.3 L63.5 413.3 L64.2 411.9 L64.8 411.6 L65.4 411.5 L66.1 414.3 L66.7 412.7 L67.3 412.3 L67.9 410.9 L68.6 415.3 L69.3 413.2 L70.0 413.6 L70.6 414.4 L71.2 414.4 L71.8 418.0 L72.4 416.5 L73.0 416.3 L73.7 412.5 L74.3 414.9 L75.0 415.7 L75.6 417.5 L76.3 417.1 L77.0 416.0 L77.6 416.0 L78.3 416.0 L78.9 417.8 L79.6 417.1 L80.2 417.8 L80.9 416.2 L81.6 417.8 L82.3 419.4 L83.0 417.8 L83.7 421.1 L84.4 418.9 L85.0 416.1 L85.7 419.1 L86.3 420.2 L86.8 418.2 L87.4 418.3 L87.9 421.0 L88.7 420.6 L89.3 419.7 L89.9 420.4 L90.4 419.6 L90.9 421.1 L91.4 422.7 L91.9 422.4 L92.4 422.4 L92.9 421.6 L93.4 423.4 L93.9 423.1 L94.4 423.9 L95.0 424.3 L95.5 425.1 L96.0 425.4 L96.4 426.5 L96.9 425.7 L97.5 426.9 L98.0 429.2 L98.6 429.0 L99.1 427.7 L99.6 430.6 L100.0 430.3 L100.5 430.6 L100.8 431.3 L101.2 432.2 L101.5 431.4 L101.8 432.6 L102.0 433.5 L102.3 433.8 L102.6 434.4 L102.9 435.3 L103.2 436.1 L103.3 436.3 L103.5 436.9 L103.6 437.4 L103.8 438.1 L103.9 438.4 L104.1 439.0 L104.2 439.6 L104.4 440.2 L104.5 440.8 L104.6 441.4 L104.8 442.1 L104.9 442.8 L105.1 443.5 L105.2 444.3 L105.4 445.1 L105.6 445.9 L105.7 446.7 L105.9 447.6 L106.0 448.1 L106.1 448.7 L106.2 449.2 L106.3 449.8 L106.4 450.4 L106.5 451.0 L106.6 451.6 L106.7 452.3 L106.8 452.9 L107.0 453.6 L107.1 454.2 L107.2 454.9 L107.3 455.6 L107.4 456.3 L107.5 457.0 L107.6 457.7 L107.8 458.4 L107.9 459.1 L108.0 459.8 L108.1 460.5 L108.2 461.2 L108.3 461.9 L108.5 462.6 L108.6 463.2 L108.7 463.9 L108.8 464.6 L108.9 465.2 L109.0 465.9 L109.2 466.5 L109.3 467.1 L109.4 467.7 L109.5 468.3 L109.6 469.0 L109.8 469.7 L109.9 470.5 L110.1 471.1 L110.2 471.8 L110.4 472.5 L110.5 473.2 L110.7 473.8 L110.8 474.5 L110.9 475.1 L111.1 475.7 L111.2 476.4 L111.4 477.0 L111.5 477.6 L111.7 478.2 L111.8 478.9 L111.9 479.5 L112.1 480.1 L112.2 480.7 L112.4 481.3 L112.5 481.9 L112.7 482.5 L112.8 483.2 L113.0 483.8 L113.1 484.4 L113.3 485.1 L113.4 485.7 L113.6 486.4 L113.7 487.1 L113.9 487.8 L114.0 488.5 L114.2 489.2 L114.3 490.0 L114.5 490.7 L114.6 491.4 L114.8 492.1 L115.0 492.8 L115.1 493.5 L115.3 494.1 L115.4 494.8 L115.6 495.4 L115.7 496.1 L115.9 496.7 L116.0 497.2 L116.2 497.8 L116.3 498.3 L116.4 498.8 L116.6 499.3 L116.7 499.7 L117.1 500.8 L117.4 501.8 L117.8 502.5 L118.1 503.1 L118.4 503.5 L118.7 503.8 L119.1 504.1 L119.4 504.2 L119.9 504.1 L120.4 503.7 L121.0 503.0 L121.5 502.3 L122.1 501.5 L122.5 501.0 L122.9 500.4 L123.3 499.8 L123.8 499.2 L124.2 498.6 L124.7 498.0 L125.2 497.6 L125.6 497.2 L126.3 496.8 L127.0 496.6 L127.7 496.5 L128.4 496.6 L129.2 496.8 L129.7 497.0 L130.2 497.4 L130.8 497.8 L131.3 498.3 L131.9 498.7 L132.5 499.1 L133.1 499.5 L133.7 499.7 L134.3 499.8 L134.9 499.7 L135.5 499.6 L136.2 499.4 L136.8 499.3 L137.5 499.2 L138.2 499.1 L139.0 499.2 L139.5 499.3 L140.1 499.5 L140.7 499.7 L141.3 499.9 L141.9 500.2 L142.5 500.5 L143.1 500.8 L143.8 501.1 L144.4 501.4 L145.1 501.7 L145.7 501.9 L146.4 502.2 L147.0 502.4 L147.6 502.7 L148.2 502.9 L148.8 503.2 L149.4 503.4 L150.0 503.7 L150.6 504.0 L151.3 504.2 L151.9 504.4 L152.5 504.6 L153.2 504.8 L153.8 504.9 L154.5 505.0 L155.1 505.1 L155.7 505.1 L156.4 505.1 L157.0 505.1 L157.6 505.0 L158.2 505.0 L158.9 504.9 L159.5 504.7 L160.2 504.6 L160.8 504.4 L161.5 504.2 L162.2 503.9 L162.9 503.7 L163.6 503.3 L164.4 503.0 L164.9 502.8 L165.4 502.5 L166.0 502.2 L166.5 501.9 L167.0 501.6 L167.6 501.2 L168.2 500.9 L168.7 500.5 L169.3 500.2 L169.9 499.8 L170.5 499.4 L171.1 499.0 L171.7 498.6 L172.3 498.2 L172.9 497.8 L173.5 497.4 L174.1 496.9 L174.7 496.5 L175.3 496.1 L175.8 495.8 L176.4 495.4 L177.0 495.0 L177.6 494.6 L178.2 494.3 L178.8 493.9 L179.4 493.5 L180.0 493.2 L180.6 492.8 L181.2 492.4 L181.8 492.1 L182.4 491.7 L183.0 491.3 L183.6 491.0 L184.2 490.6 L184.8 490.2 L185.3 489.8 L185.9 489.5 L186.5 489.1 L187.0 488.7 L187.6 488.3 L188.1 488.0 L188.6 487.6 L189.0 487.2 L189.5 486.8 L190.1 486.3 L190.6 485.8 L191.1 485.3 L191.6 484.8 L192.0 484.3 L192.4 483.8 L192.8 483.3 L193.2 482.8 L193.6 482.3 L194.0 481.7 L194.4 481.2 L194.7 480.7 L195.1 480.1 L195.5 479.6 L195.9 479.0 L196.3 478.5 L196.7 477.9 L197.1 477.4 L197.4 476.9 L197.8 476.4 L198.1 475.9 L198.5 475.4 L198.8 474.9 L199.1 474.4 L199.5 473.9 L199.8 473.3 L200.2 472.8 L200.5 472.3 L200.9 471.7 L201.2 471.2 L201.6 470.6 L202.0 470.0 L202.3 469.4 L202.7 468.8 L203.1 468.2 L203.5 467.6 L203.9 467.0 L204.2 466.5 L204.5 466.0 L204.9 465.5 L205.2 465.0 L205.5 464.4 L205.9 463.9 L206.2 463.3 L206.5 462.8 L206.9 462.2 L207.2 461.6 L207.6 461.1 L207.9 460.5 L208.3 459.9 L208.6 459.3 L209.0 458.7 L209.4 458.2 L209.7 457.6 L210.1 457.0 L210.4 456.4 L210.8 455.9 L211.1 455.3 L211.5 454.8 L211.9 454.2 L212.2 453.7 L212.6 453.1 L212.9 452.6 L213.3 452.0 L213.7 451.4 L214.1 450.8 L214.5 450.2 L214.9 449.7 L215.3 449.1 L215.7 448.5 L216.1 447.9 L216.5 447.3 L216.9 446.8 L217.3 446.2 L217.7 445.6 L218.1 445.1 L218.5 444.5 L218.9 444.0 L219.3 443.4 L219.7 442.9 L220.1 442.4 L220.4 441.9 L220.8 441.4 L221.2 440.9 L221.5 440.5 L221.9 440.0 L222.4 439.4 L222.9 438.8 L223.3 438.2 L223.7 437.7 L224.1 437.1 L224.5 436.6 L224.9 436.1 L225.3 435.7 L225.7 435.2 L226.2 434.7 L226.6 434.3 L227.0 433.8 L227.5 433.4 L227.9 432.9 L228.5 432.5 L229.0 432.0 L229.5 431.6 L230.0 431.2 L230.5 430.8 L231.1 430.4 L231.6 430.0 L232.2 429.6 L232.8 429.2 L233.4 428.8 L234.0 428.4 L234.6 428.1 L235.2 427.7 L235.8 427.3 L236.4 426.9 L237.0 426.6 L237.6 426.2 L238.2 425.8 L238.7 425.5 L239.3 425.1 L239.8 424.8 L240.4 424.4 L241.0 424.0 L241.6 423.6 L242.1 423.3 L242.7 422.9 L243.2 422.5 L243.8 422.2 L244.3 421.8 L244.8 421.5 L245.4 421.1 L245.9 420.8 L246.5 420.5 L247.0 420.1 L247.6 419.8 L248.2 419.5 L248.8 419.2 L249.4 418.9 L250.0 418.6 L250.6 418.3 L251.2 418.1 L251.9 417.8 L252.5 417.5 L253.1 417.2 L253.8 417.0 L254.4 416.7 L255.1 416.5 L255.7 416.2 L256.4 416.0 L257.0 415.8 L257.7 415.5 L258.3 415.4 L259.0 415.2 L259.6 415.0 L260.3 414.8 L260.9 414.7 L261.5 414.6 L262.1 414.5 L262.7 414.4 L263.3 414.3 L263.9 414.2 L264.5 414.1 L265.2 414.1 L265.8 414.0 L266.4 413.9 L267.1 413.9 L267.8 413.9 L268.5 413.8 L269.2 413.8 L270.0 413.7 L270.6 413.7 L271.1 413.6 L271.7 413.6 L272.3 413.6 L272.9 413.6 L273.5 413.5 L274.1 413.5 L274.8 413.5 L275.4 413.5 L276.1 413.5 L276.7 413.5 L277.4 413.4 L278.1 413.4 L278.7 413.4 L279.4 413.4 L280.1 413.4 L280.8 413.4 L281.5 413.3 L282.2 413.3 L282.9 413.3 L283.6 413.3 L284.3 413.2 L285.0 413.2 L285.6 413.2 L286.2 413.1 L286.9 413.1 L287.6 413.0 L288.2 413.0 L288.9 412.9 L289.6 412.9 L290.3 412.8 L291.1 412.8 L291.8 412.7 L292.5 412.6 L293.2 412.6 L293.9 412.5 L294.6 412.5 L295.3 412.4 L296.0 412.3 L296.7 412.3 L297.4 412.2 L298.1 412.2 L298.7 412.1 L299.3 412.1 L299.9 412.0 L300.5 412.0 L301.1 412.0 L301.6 411.9 L302.1 411.9 L302.6 411.9 L303.7 411.9 L304.6 411.9 L305.4 411.9 L306.2 412.0 L306.8 412.0 L307.4 412.1 L307.9 412.2 L308.4 412.2 L308.9 412.3 L309.4 412.4 L309.9 412.5 L310.8 412.7 L311.6 413.1 L312.2 413.4 L312.8 413.6 L313.6 413.7 L314.1 413.6 L314.4 413.4 L314.7 413.1 L315.1 412.9 L315.8 412.6 L316.9 412.5 L318.6 412.5 L319.0 412.5 L319.4 412.6 L319.9 412.6 L320.4 412.6 L320.9 412.7 L321.4 412.7 L322.0 412.7 L322.5 412.8 L323.1 412.9 L323.7 412.9 L324.4 413.0 L325.0 413.0 L325.6 413.1 L326.3 413.2 L327.0 413.2 L327.7 413.3 L328.4 413.4 L329.1 413.5 L329.8 413.6 L330.5 413.6 L331.2 413.7 L332.0 413.8 L332.7 413.9 L333.4 414.0 L334.2 414.1 L334.9 414.2 L335.6 414.3 L336.4 414.4 L337.1 414.5 L337.8 414.6 L338.5 414.7 L339.3 414.8 L340.0 414.9 L340.6 415.0 L341.3 415.1 L342.0 415.2 L342.6 415.3 L343.3 415.4 L343.9 415.5 L344.5 415.6 L345.2 415.7 L345.8 415.8 L346.5 415.9 L347.1 416.1 L347.8 416.2 L348.4 416.3 L349.1 416.4 L349.8 416.5 L350.4 416.7 L351.1 416.8 L351.7 416.9 L352.4 417.0 L353.1 417.2 L353.7 417.3 L354.4 417.4 L355.0 417.6 L355.7 417.7 L356.3 417.8 L357.0 418.0 L357.6 418.1 L358.3 418.2 L358.9 418.3 L359.6 418.5 L360.2 418.6 L360.9 418.7 L361.5 418.9 L362.2 419.0 L362.8 419.1 L363.4 419.3 L364.0 419.4 L364.7 419.5 L365.3 419.7 L365.9 419.8 L366.5 419.9 L367.2 420.0 L367.9 420.2 L368.6 420.3 L369.3 420.5 L370.0 420.6 L370.6 420.7 L371.3 420.9 L372.0 421.0 L372.7 421.1 L373.3 421.3 L374.0 421.4 L374.7 421.6 L375.3 421.7 L376.0 421.8 L376.7 422.0 L377.3 422.1 L378.0 422.2 L378.6 422.4 L379.3 422.5 L379.9 422.7 L380.5 422.8 L381.2 422.9 L381.8 423.1 L382.4 423.2 L383.1 423.4 L383.7 423.5 L384.3 423.7 L384.9 423.8 L385.6 424.0 L386.2 424.1 L386.8 424.3 L387.4 424.4 L388.0 424.6 L388.7 424.8 L389.4 425.0 L390.0 425.2 L390.7 425.3 L391.3 425.5 L392.0 425.7 L392.6 425.9 L393.3 426.1 L393.9 426.3 L394.5 426.5 L395.2 426.7 L395.8 426.9 L396.4 427.1 L397.0 427.3 L397.7 427.5 L398.3 427.7 L398.9 427.9 L399.5 428.1 L400.1 428.4 L400.7 428.6 L401.3 428.8 L401.9 429.0 L402.6 429.2 L403.2 429.5 L403.8 429.7 L404.4 429.9 L405.0 430.1 L405.7 430.4 L406.3 430.6 L406.9 430.8 L407.5 431.1 L408.2 431.3 L408.8 431.6 L409.4 431.8 L410.1 432.1 L410.7 432.4 L411.4 432.6 L412.0 432.9 L412.7 433.2 L413.3 433.5 L413.9 433.7 L414.6 434.0 L415.2 434.3 L415.9 434.6 L416.5 434.9 L417.1 435.1 L417.8 435.4 L418.4 435.7 L419.0 435.9 L419.6 436.2 L420.2 436.5 L420.8 436.9 L421.4 437.1 L422.0 437.5 L422.6 438.2 L423.1 437.7 L423.7 438.2 L424.2 438.5 L424.7 440.1 L425.5 438.4 L426.3 438.8 L427.1 439.5 L427.9 438.9 L428.6 439.6 L429.4 439.9 L430.1 439.8 L430.8 439.4 L431.5 439.3 L432.1 440.6 L432.8 440.6 L433.4 441.1 L434.0 440.5 L434.6 440.6 L435.1 440.8 L435.6 440.1 L436.1 440.8 L436.6 442.7 L437.0 441.5 L438.3 440.6 L438.9 443.0 L439.3 441.3 L440.0 440.2 L440.5 442.2 L441.0 443.0 L441.6 442.6 L442.2 443.2 L442.8 443.9 L443.4 443.7 L444.1 444.1 L444.7 443.7 L445.3 444.5 L445.8 446.0 L446.3 445.9 L446.8 445.9 L447.2 447.2 L447.7 446.4 L448.1 448.1 L448.5 448.6 L448.9 450.2 L449.3 448.8 L449.8 450.5 L450.2 449.5 L450.5 452.7 L450.8 450.7 L451.1 452.8 L451.4 452.6 L451.7 453.3 L452.0 453.1 L452.3 454.9 L452.6 454.6 L452.9 456.0 L453.2 456.5 L453.5 456.1 L453.8 455.5 L454.1 457.6 L454.4 460.2 L454.6 459.4 L454.8 459.5 L455.0 460.3 L455.2 461.3 L455.4 461.1 L455.6 462.8 L455.8 463.0 L456.0 463.3 L456.1 462.6 L456.3 466.9 L456.5 465.2 L456.6 466.8 L456.8 466.2 L457.0 468.1 L457.1 468.6 L457.3 468.8 L457.5 469.8 L457.7 470.7 L457.9 468.9 L458.1 471.3 L458.4 472.4 L458.6 472.3 L458.8 474.0 L459.0 475.0 L459.2 474.9 L459.5 474.8 L459.7 477.5 L459.9 477.3 L460.1 476.4 L460.2 478.1 L460.4 478.5 L460.8 478.4 L461.1 480.0 L461.3 479.6 L461.6 481.2 L462.0 482.0 L462.6 481.1 L463.3 481.9 L464.1 483.2 L464.8 484.0 L465.3 480.7 L465.8 483.7 L466.3 481.1 L466.8 480.9 L467.3 480.4 L467.7 480.2 L467.9 479.2 L468.1 479.5 L468.3 477.2 L468.4 478.3 L468.6 476.6 L468.8 475.8 L468.9 474.9 L469.1 474.4 L469.2 474.4 L469.4 473.3 L469.6 472.1 L469.7 471.9 L469.9 470.5 L470.0 470.3 L470.1 469.7 L470.2 468.5 L470.4 468.4 L470.5 467.6 L470.6 466.8 L470.7 467.2 L470.8 465.1 L470.9 465.6 L471.1 462.8 L471.2 464.1 L471.3 463.5 L471.4 461.5 L471.5 460.8 L471.6 460.1 L471.8 458.6 L471.9 460.3 L472.0 458.4 L472.1 459.3 L472.4 457.6 L472.6 457.3 L472.9 455.7 L473.2 453.5 L473.4 453.8 L473.7 454.9 L474.0 454.0 L474.3 453.0 L474.8 452.1 L475.4 452.6 L476.1 452.6 L476.7 451.6 L477.2 452.4 L477.7 452.2 L478.2 452.8 L478.7 452.4 L479.4 453.8 L479.8 454.5 L480.3 454.2 L480.9 454.8 L481.5 455.4 L482.1 457.2 L482.6 455.4 L483.2 456.0 L483.8 457.8 L484.4 456.9 L484.9 457.3 L485.4 458.0 L486.0 458.0 L486.6 459.6 L487.1 459.8 L487.7 460.9 L488.2 460.8 L488.7 460.7 L489.2 461.9 L489.7 462.4 L490.2 461.8 L490.7 462.6 L491.1 463.5 L491.6 463.3 L492.1 464.0 L492.6 464.7 L493.1 465.9 L493.6 465.7 L494.0 466.0 L494.5 465.5 L495.0 468.3 L495.5 467.8 L495.9 468.4 L496.4 468.6 L496.9 469.6 L497.5 469.5 L498.2 470.6 L498.8 470.9 L499.5 471.3 L500.1 471.6 L500.7 471.8 L501.3 472.0 L502.0 472.0 L502.7 471.7 L503.4 471.4 L504.1 471.0 L505.0 470.9 L505.5 470.9 L506.1 470.9 L506.7 471.0 L507.4 471.1 L508.0 471.2 L508.7 471.3 L509.4 471.4 L510.1 471.6 L510.8 471.8 L511.5 472.0 L512.1 472.2 L512.7 472.4 L513.2 472.6 L513.8 472.8 L514.4 473.1 L515.0 473.3 L515.6 473.6 L516.2 473.9 L516.9 474.2 L517.5 474.5 L518.1 474.9 L518.8 475.3 L519.3 475.6 L519.9 476.0 L520.4 476.4 L521.0 476.8 L521.7 477.2 L522.3 477.7 L522.9 478.1 L523.5 478.6 L524.1 479.0 L524.7 479.5 L525.3 479.9 L525.8 480.4 L526.3 480.8 L526.8 481.1 L527.2 481.5 L527.6 481.8 L528.4 482.6 L528.9 483.0 L529.1 483.5 L529.4 483.9 L530.0 484.7 L530.3 485.1 L530.7 485.6 L531.1 486.1 L531.5 486.6 L531.9 487.1 L532.4 487.7 L532.9 488.3 L533.3 488.8 L533.8 489.4 L534.3 490.0 L534.8 490.6 L535.3 491.2 L535.7 491.7 L536.1 492.2 L536.5 492.7 L537.0 493.2 L537.4 493.7 L537.9 494.3 L538.3 494.8 L538.8 495.3 L539.2 495.8 L539.7 496.3 L540.1 496.8 L540.6 497.3 L541.0 497.7 L541.4 498.1 L541.8 498.5 L542.4 499.0 L543.0 499.5 L543.6 499.9 L544.1 500.2 L544.6 500.5 L545.2 500.8 L545.8 501.1 L546.4 501.4 L547.1 501.8 L547.6 502.1 L548.2 502.4 L548.8 502.7 L549.5 503.0 L550.2 503.3 L550.8 503.6 L551.5 503.9 L552.2 504.2 L552.8 504.5 L553.4 504.8 L554.0 505.0 L554.5 505.2 L555.0 505.4 L555.9 505.6 L556.3 505.7 L556.7 505.6 L557.3 505.6 L558.3 505.7 L558.8 505.8 L559.3 505.9 L559.9 506.1 L560.6 506.3 L561.3 506.5 L562.0 506.7 L562.7 506.9 L563.4 507.1 L564.2 507.3 L564.9 507.5 L565.6 507.6 L566.3 507.8 L567.0 507.9 L567.6 508.0 L568.1 508.1 L569.0 508.2 L569.7 508.2 L570.4 508.1 L571.0 508.0 L571.6 507.9 L572.2 507.7 L572.8 507.5 L573.4 507.3 L574.0 507.1 L574.6 506.8 L575.2 506.6 L575.8 506.3 L576.4 506.0 L577.0 505.6 L577.6 505.2 L578.1 504.8 L578.6 504.4 L579.1 503.9 L579.5 503.4 L579.9 502.8 L580.3 502.2 L580.7 501.6 L581.1 500.9 L581.5 500.3 L581.8 499.7 L582.2 499.1 L582.6 498.5 L583.0 497.8 L583.3 497.2 L583.7 496.5 L584.1 495.8 L584.4 495.2 L584.8 494.7 L585.1 494.2 L585.4 493.9 L586.2 493.5 L587.0 493.6 L587.8 493.9 L588.4 494.2 L589.1 494.8 L589.7 495.2 L590.4 495.3 L591.1 494.7 L591.3 494.3 L591.5 493.9 L591.6 493.4 L591.8 492.8 L592.0 492.2 L592.1 491.5 L592.3 490.7 L592.5 490.0 L592.7 489.2 L592.8 488.4 L593.0 487.6 L593.2 486.9 L593.4 486.1 L593.5 485.4 L593.7 484.7 L593.9 484.1 L594.1 483.5 L594.3 483.0 L594.7 482.2 L595.2 481.6 L595.6 481.1 L596.1 480.8 L596.5 480.4 L597.0 480.0 L597.4 479.6 L597.9 479.0 L598.3 478.2 L598.5 477.7 L598.7 477.2 L598.9 476.5 L599.1 475.9 L599.3 475.2 L599.5 474.4 L599.7 473.7 L599.8 472.9 L600.0 472.2 L600.2 471.4 L600.4 470.7 L600.5 470.0 L600.7 469.3 L600.9 468.7 L601.0 468.1 L601.2 467.6 L601.4 467.2 L601.5 466.9 L602.2 466.8 L602.8 468.1 L603.6 468.2 L603.8 467.9 L604.0 467.4 L604.2 466.8 L604.5 466.2 L604.7 465.5 L605.0 464.7 L605.3 463.9 L605.5 463.1 L605.8 462.3 L606.0 461.5 L606.3 460.8 L606.5 460.2 L606.7 459.6 L606.9 459.2 L607.1 458.9 L607.6 458.5 L608.0 458.9 L608.3 459.9 L608.7 461.3 L608.8 461.8 L608.9 462.3 L609.1 463.0 L609.2 463.7 L609.3 464.5 L609.4 465.3 L609.6 466.1 L609.7 466.9 L609.8 467.7 L610.0 468.5 L610.1 469.2 L610.2 469.8 L610.4 470.3 L610.5 470.7 L610.7 471.0 L611.1 471.2 L611.6 470.8 L612.1 470.1 L612.6 469.2 L613.1 468.3 L613.5 467.7 L614.1 467.4 L614.5 467.2 L615.1 466.1 L615.2 465.7 L615.4 465.2 L615.5 464.6 L615.6 464.0 L615.8 463.3 L615.9 462.5 L616.1 461.8 L616.2 461.0 L616.4 460.2 L616.6 459.5 L616.7 458.7 L616.9 458.0 L617.1 457.3 L617.2 456.7 L617.4 456.2 L617.6 455.7 L618.0 454.8 L618.4 454.0 L618.9 453.3 L619.3 452.8 L619.8 452.5 L620.3 452.3 L620.8 452.2 L621.3 452.3 L621.7 452.5 L622.2 452.8 L622.8 453.2 L623.3 453.7 L623.8 454.3 L624.3 455.0 L624.8 455.7 L625.1 456.2 L625.4 456.7 L625.7 457.4 L626.0 458.0 L626.3 458.7 L626.6 459.5 L626.8 460.2 L627.1 461.0 L627.4 461.7 L627.7 462.4 L628.0 463.0 L628.3 463.6 L628.5 464.1 L628.8 464.5 L629.5 465.2 L630.1 465.5 L630.7 465.6 L631.3 465.7 L632.0 466.1 L632.4 466.5 L632.8 466.9 L633.2 467.3 L633.6 467.8 L634.0 468.4 L634.5 469.0 L634.9 469.6 L635.4 470.3 L636.0 471.0 L636.3 471.4 L636.7 471.9 L637.1 472.4 L637.4 472.9 L637.8 473.4 L638.3 474.0 L638.7 474.5 L639.1 475.1 L639.5 475.7 L639.9 476.2 L640.4 476.8 L640.8 477.4 L641.2 478.0 L641.6 478.6 L642.0 479.2 L642.4 479.8 L642.8 480.4 L643.1 481.0 L643.5 481.6 L643.8 482.2 L644.2 482.9 L644.5 483.5 L644.9 484.2 L645.2 484.9 L645.6 485.5 L645.9 486.2 L646.2 486.8 L646.6 487.4 L646.9 487.9 L647.2 488.4 L647.5 488.9 L647.8 489.3 L648.1 489.7 L648.8 490.4 L649.5 490.8 L650.1 490.9 L650.7 490.9 L651.3 491.0 L652.1 491.3 L652.6 491.6 L653.1 492.0 L653.7 492.5 L654.3 493.0 L654.9 493.5 L655.6 494.0 L656.2 494.4 L656.8 494.9 L657.4 495.2 L658.0 495.4 L658.5 495.5 L659.1 495.4 L659.7 495.1 L660.2 494.6 L660.8 494.0 L661.3 493.3 L661.8 492.8 L662.3 492.3 L662.8 491.9 L663.3 491.8 L663.8 492.0 L664.4 492.4 L664.9 493.0 L665.3 493.7 L665.8 494.5 L666.3 495.1 L666.8 495.6 L667.3 495.8 L667.9 495.7 L668.5 495.4 L669.1 495.0 L669.6 494.4 L670.2 493.8 L670.8 493.4 L671.4 493.1 L672.1 493.0 L672.8 493.1 L673.6 493.2 L674.2 493.4 L674.9 493.5 L675.4 493.4 L675.9 493.0 L676.2 492.4 L676.5 491.7 L677.0 491.0 L677.5 490.6 L678.1 490.1 L678.7 489.6 L679.3 489.2 L679.8 488.9 L680.2 488.6" fill="none" stroke="#4a4a4a" stroke-width="2.3" stroke-linejoin="round" stroke-linecap="round"/>
<rect x="51.5" y="35" width="632" height="496.5" fill="none" stroke="#000" stroke-width="2"/>
<line x1="54.7" y1="531" x2="54.7" y2="541" stroke="#000" stroke-width="1.8"/>
<text x="31.68" y="563.80" style="font-size:20.7px">4000</text>
<line x1="141.5" y1="531" x2="141.5" y2="541" stroke="#000" stroke-width="1.8"/>
<text x="118.48" y="563.80" style="font-size:20.7px">3500</text>
<line x1="228.3" y1="531" x2="228.3" y2="541" stroke="#000" stroke-width="1.8"/>
<text x="205.28" y="563.80" style="font-size:20.7px">3000</text>
<line x1="315.1" y1="531" x2="315.1" y2="541" stroke="#000" stroke-width="1.8"/>
<text x="292.08" y="563.80" style="font-size:20.7px">2500</text>
<line x1="401.9" y1="531" x2="401.9" y2="541" stroke="#000" stroke-width="1.8"/>
<text x="378.88" y="563.80" style="font-size:20.7px">2000</text>
<line x1="488.7" y1="531" x2="488.7" y2="541" stroke="#000" stroke-width="1.8"/>
<path d="M583,0 L763,0 L763,1466 L646,1466 C602,1377 520,1285 400,1200 C340,1158 280,1125 223,1102 L223,929 C290,954 376,995 450,1040 C510,1077 555,1113 583,1145 Z" transform="translate(465.68,563.80) scale(0.01011,-0.01011)" fill="#000"/><text x="477.19" y="563.80" style="font-size:20.7px">500</text>
<line x1="575.5" y1="531" x2="575.5" y2="541" stroke="#000" stroke-width="1.8"/>
<path d="M583,0 L763,0 L763,1466 L646,1466 C602,1377 520,1285 400,1200 C340,1158 280,1125 223,1102 L223,929 C290,954 376,995 450,1040 C510,1077 555,1113 583,1145 Z" transform="translate(552.48,563.80) scale(0.01011,-0.01011)" fill="#000"/><text x="563.99" y="563.80" style="font-size:20.7px">000</text>
<line x1="662.3" y1="531" x2="662.3" y2="541" stroke="#000" stroke-width="1.8"/>
<text x="645.04" y="563.80" style="font-size:20.7px">500</text>
<line x1="98.1" y1="531" x2="98.1" y2="536" stroke="#000" stroke-width="1.8"/>
<line x1="184.9" y1="531" x2="184.9" y2="536" stroke="#000" stroke-width="1.8"/>
<line x1="271.7" y1="531" x2="271.7" y2="536" stroke="#000" stroke-width="1.8"/>
<line x1="358.5" y1="531" x2="358.5" y2="536" stroke="#000" stroke-width="1.8"/>
<line x1="445.3" y1="531" x2="445.3" y2="536" stroke="#000" stroke-width="1.8"/>
<line x1="532.1" y1="531" x2="532.1" y2="536" stroke="#000" stroke-width="1.8"/>
<line x1="618.9" y1="531" x2="618.9" y2="536" stroke="#000" stroke-width="1.8"/>
<text x="282.4" y="70" class="cl">AIBMIX</text>
<text x="292.6" y="169" class="cl">AIBHCl</text>
<text x="293.4" y="254.7" class="cl">AIBHNO&#8323;</text>
<text x="289" y="380.1" class="cl">AIBH&#8322;SO&#8324;</text>
<text x="301.3" y="431.4" class="cl">RIB</text>
<text transform="translate(19.4,0) rotate(-90)" x="-387.18 -371.13 -363.10 -349.13 -334.22 -321.73 -300.74 -294.89 -289.19 -280.90 -266.83 -252.80 -239.70 -225.24 -218.61 -209.43 -185.75" y="0" style="font-size:26px">Transmittance (%)</text>
<text y="606.4" style="font-size:26px"><tspan x="258.49 282.40 295.21 308.70 322.97 336.81 351.27 373.62 386.40 401.27 409.79 418.70 430.87">Wavenumber(cm</tspan><tspan x="451.84" y="595.6" style="font-size:17px">-</tspan><tspan x="469.65" y="606.4">)</tspan></text><path d="M583,0 L763,0 L763,1466 L646,1466 C602,1377 520,1285 400,1200 C340,1158 280,1125 223,1102 L223,929 C290,954 376,995 450,1040 C510,1077 555,1113 583,1145 Z" transform="translate(457.77,595.5) scale(0.00820,-0.00820)" fill="#000"/>
</svg>
</body></html>
